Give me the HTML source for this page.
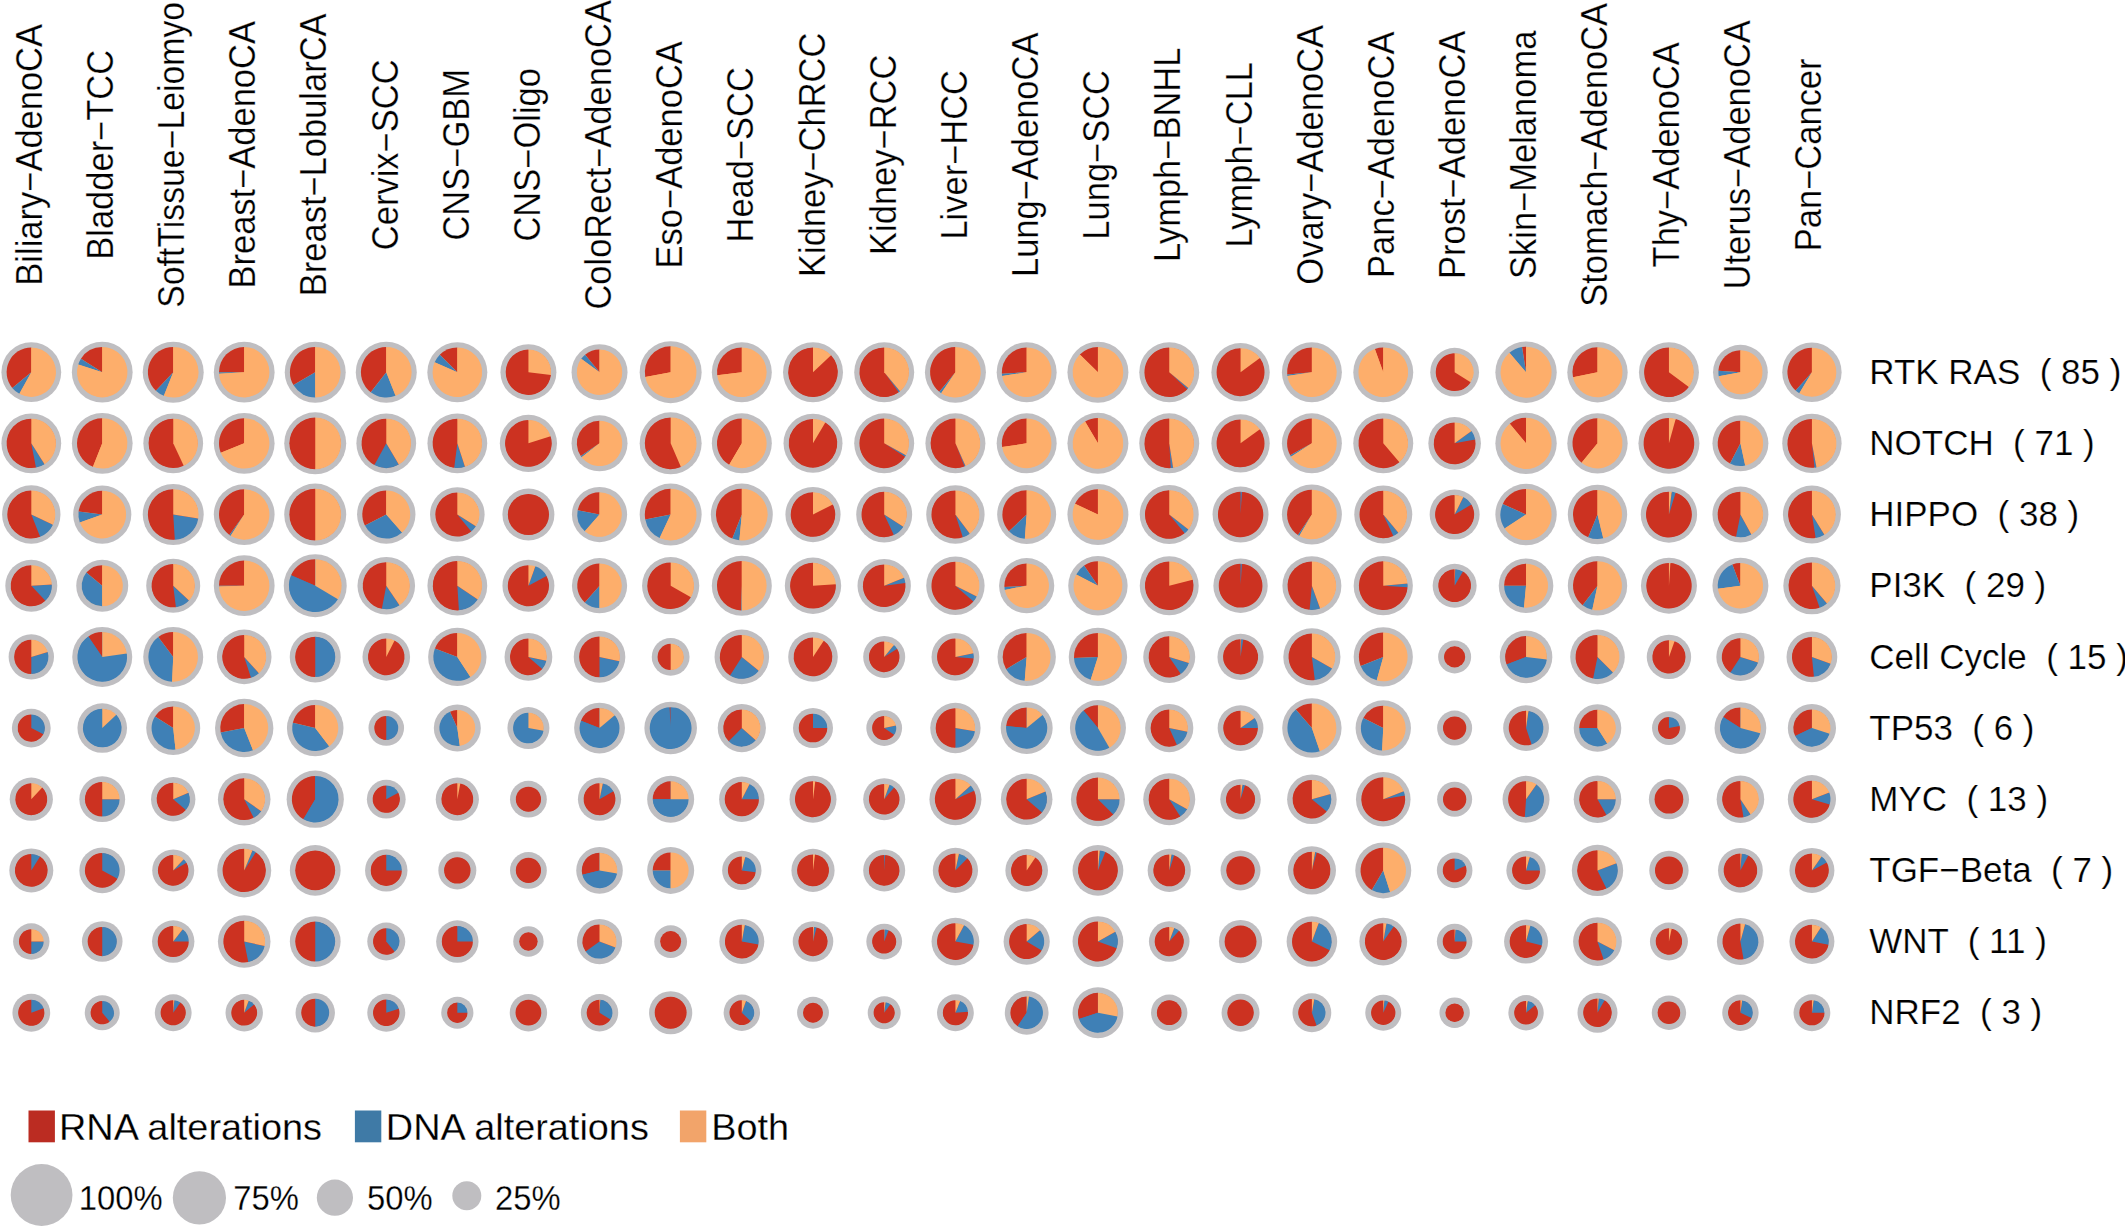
<!DOCTYPE html>
<html><head><meta charset="utf-8"><title>Pathway alterations</title>
<style>
html,body{margin:0;padding:0;background:#fff;}
body{width:2125px;height:1227px;overflow:hidden;}
svg{display:block;}
text{font-family:"Liberation Sans",Arial,Helvetica,sans-serif;fill:#000;stroke:#fff;stroke-width:0.25px;}
</style></head><body>
<svg width="2125" height="1227" viewBox="0 0 2125 1227">
<rect width="2125" height="1227" fill="#fff"/>

<g font-size="36.0" text-anchor="middle">
<text transform="translate(41.70 154.8) rotate(-90) scale(0.9580 1)">Biliary−AdenoCA</text>
<text transform="translate(112.87 154.8) rotate(-90) scale(0.9580 1)">Bladder−TCC</text>
<text transform="translate(184.04 154.8) rotate(-90) scale(0.9388 1)">SoftTissue−Leiomyo</text>
<text transform="translate(255.21 154.8) rotate(-90) scale(0.9580 1)">Breast−AdenoCA</text>
<text transform="translate(326.38 154.8) rotate(-90) scale(0.9580 1)">Breast−LobularCA</text>
<text transform="translate(397.55 154.8) rotate(-90) scale(0.9580 1)">Cervix−SCC</text>
<text transform="translate(468.72 154.8) rotate(-90) scale(0.9580 1)">CNS−GBM</text>
<text transform="translate(539.89 154.8) rotate(-90) scale(0.9580 1)">CNS−Oligo</text>
<text transform="translate(611.06 154.8) rotate(-90) scale(0.9580 1)">ColoRect−AdenoCA</text>
<text transform="translate(682.23 154.8) rotate(-90) scale(0.9580 1)">Eso−AdenoCA</text>
<text transform="translate(753.40 154.8) rotate(-90) scale(0.9580 1)">Head−SCC</text>
<text transform="translate(824.57 154.8) rotate(-90) scale(0.9580 1)">Kidney−ChRCC</text>
<text transform="translate(895.74 154.8) rotate(-90) scale(0.9580 1)">Kidney−RCC</text>
<text transform="translate(966.91 154.8) rotate(-90) scale(0.9580 1)">Liver−HCC</text>
<text transform="translate(1038.08 154.8) rotate(-90) scale(0.9580 1)">Lung−AdenoCA</text>
<text transform="translate(1109.25 154.8) rotate(-90) scale(0.9580 1)">Lung−SCC</text>
<text transform="translate(1180.42 154.8) rotate(-90) scale(0.9580 1)">Lymph−BNHL</text>
<text transform="translate(1251.59 154.8) rotate(-90) scale(0.9580 1)">Lymph−CLL</text>
<text transform="translate(1322.76 154.8) rotate(-90) scale(0.9580 1)">Ovary−AdenoCA</text>
<text transform="translate(1393.93 154.8) rotate(-90) scale(0.9580 1)">Panc−AdenoCA</text>
<text transform="translate(1465.10 154.8) rotate(-90) scale(0.9580 1)">Prost−AdenoCA</text>
<text transform="translate(1536.27 154.8) rotate(-90) scale(0.9580 1)">Skin−Melanoma</text>
<text transform="translate(1607.44 154.8) rotate(-90) scale(0.9580 1)">Stomach−AdenoCA</text>
<text transform="translate(1678.61 154.8) rotate(-90) scale(0.9580 1)">Thy−AdenoCA</text>
<text transform="translate(1749.78 154.8) rotate(-90) scale(0.9580 1)">Uterus−AdenoCA</text>
<text transform="translate(1820.95 154.8) rotate(-90) scale(0.9580 1)">Pan−Cancer</text>
</g>
<g font-size="36.0">
<text transform="translate(1869.3 383.95) scale(0.972 1)" xml:space="preserve">RTK RAS  ( 85 )</text>
<text transform="translate(1869.3 455.12) scale(0.972 1)" xml:space="preserve">NOTCH  ( 71 )</text>
<text transform="translate(1869.3 526.29) scale(0.972 1)" xml:space="preserve">HIPPO  ( 38 )</text>
<text transform="translate(1869.3 597.46) scale(0.972 1)" xml:space="preserve">PI3K  ( 29 )</text>
<text transform="translate(1869.3 668.63) scale(0.972 1)" xml:space="preserve">Cell Cycle  ( 15 )</text>
<text transform="translate(1869.3 739.80) scale(0.972 1)" xml:space="preserve">TP53  ( 6 )</text>
<text transform="translate(1869.3 810.97) scale(0.972 1)" xml:space="preserve">MYC  ( 13 )</text>
<text transform="translate(1869.3 882.14) scale(0.972 1)" xml:space="preserve">TGF−Beta  ( 7 )</text>
<text transform="translate(1869.3 953.31) scale(0.972 1)" xml:space="preserve">WNT  ( 11 )</text>
<text transform="translate(1869.3 1024.48) scale(0.972 1)" xml:space="preserve">NRF2  ( 3 )</text>
</g>
<g><!-- RTK RAS  ( 85 ) -->
<circle cx="31.30" cy="372.20" r="29.90" fill="#bfbec1"/>
<circle cx="31.30" cy="372.20" r="24.18" fill="#fdae6b"/>
<path d="M31.30 372.20L31.30 347.52A24.68 24.68 0 0 0 12.28 387.93Z" fill="#cc3221"/>
<path d="M31.30 372.20L12.28 387.93A24.68 24.68 0 0 0 19.40 393.83Z" fill="#3f80b6"/>
<path d="M31.30 372.20L19.40 393.83A24.68 24.68 0 1 0 31.30 347.52Z" fill="#fdae6b"/>
<circle cx="102.24" cy="372.20" r="30.40" fill="#bfbec1"/>
<circle cx="102.24" cy="372.20" r="24.71" fill="#fdae6b"/>
<path d="M102.24 372.20L102.24 346.99A25.21 25.21 0 0 0 80.96 358.69Z" fill="#cc3221"/>
<path d="M102.24 372.20L80.96 358.69A25.21 25.21 0 0 0 78.27 364.41Z" fill="#3f80b6"/>
<path d="M102.24 372.20L78.27 364.41A25.21 25.21 0 1 0 102.24 346.99Z" fill="#fdae6b"/>
<circle cx="173.22" cy="372.20" r="30.50" fill="#bfbec1"/>
<circle cx="173.22" cy="372.20" r="24.82" fill="#fdae6b"/>
<path d="M173.22 372.20L173.22 346.88A25.32 25.32 0 0 0 155.88 390.65Z" fill="#cc3221"/>
<path d="M173.22 372.20L155.88 390.65A25.32 25.32 0 0 0 163.90 395.74Z" fill="#3f80b6"/>
<path d="M173.22 372.20L163.90 395.74A25.32 25.32 0 1 0 173.22 346.88Z" fill="#fdae6b"/>
<circle cx="244.21" cy="372.20" r="30.40" fill="#bfbec1"/>
<circle cx="244.21" cy="372.20" r="24.71" fill="#fdae6b"/>
<path d="M244.21 372.20L244.21 346.99A25.21 25.21 0 0 0 219.00 372.20Z" fill="#cc3221"/>
<path d="M244.21 372.20L219.00 372.20A25.21 25.21 0 0 0 219.05 373.78Z" fill="#3f80b6"/>
<path d="M244.21 372.20L219.05 373.78A25.21 25.21 0 1 0 244.21 346.99Z" fill="#fdae6b"/>
<circle cx="315.23" cy="372.20" r="30.50" fill="#bfbec1"/>
<circle cx="315.23" cy="372.20" r="24.82" fill="#fdae6b"/>
<path d="M315.23 372.20L315.23 346.88A25.32 25.32 0 0 0 293.44 385.09Z" fill="#cc3221"/>
<path d="M315.23 372.20L293.44 385.09A25.32 25.32 0 0 0 315.23 397.52Z" fill="#3f80b6"/>
<path d="M315.23 372.20L315.23 397.52A25.32 25.32 0 0 0 315.23 346.88Z" fill="#fdae6b"/>
<circle cx="386.27" cy="372.20" r="30.50" fill="#bfbec1"/>
<circle cx="386.27" cy="372.20" r="24.82" fill="#fdae6b"/>
<path d="M386.27 372.20L386.27 346.88A25.32 25.32 0 0 0 370.75 392.20Z" fill="#cc3221"/>
<path d="M386.27 372.20L370.75 392.20A25.32 25.32 0 0 0 395.59 395.74Z" fill="#3f80b6"/>
<path d="M386.27 372.20L395.59 395.74A25.32 25.32 0 0 0 386.27 346.88Z" fill="#fdae6b"/>
<circle cx="457.33" cy="372.20" r="30.00" fill="#bfbec1"/>
<circle cx="457.33" cy="372.20" r="24.29" fill="#fdae6b"/>
<path d="M457.33 372.20L457.33 347.41A24.79 24.79 0 0 0 439.80 354.67Z" fill="#cc3221"/>
<path d="M457.33 372.20L439.80 354.67A24.79 24.79 0 0 0 434.58 362.35Z" fill="#3f80b6"/>
<path d="M457.33 372.20L434.58 362.35A24.79 24.79 0 1 0 457.33 347.41Z" fill="#fdae6b"/>
<circle cx="528.42" cy="372.20" r="28.00" fill="#bfbec1"/>
<circle cx="528.42" cy="372.20" r="22.18" fill="#cc3221"/>
<path d="M528.42 372.20L528.42 349.52A22.68 22.68 0 1 0 550.92 375.04Z" fill="#cc3221"/>

<path d="M528.42 372.20L550.92 375.04A22.68 22.68 0 0 0 528.42 349.52Z" fill="#fdae6b"/>
<circle cx="599.53" cy="372.20" r="28.00" fill="#bfbec1"/>
<circle cx="599.53" cy="372.20" r="22.18" fill="#fdae6b"/>
<path d="M599.53 372.20L599.53 349.52A22.68 22.68 0 0 0 585.07 354.72Z" fill="#cc3221"/>
<path d="M599.53 372.20L585.07 354.72A22.68 22.68 0 0 0 581.18 358.87Z" fill="#3f80b6"/>
<path d="M599.53 372.20L581.18 358.87A22.68 22.68 0 1 0 599.53 349.52Z" fill="#fdae6b"/>
<circle cx="670.66" cy="372.20" r="31.00" fill="#bfbec1"/>
<circle cx="670.66" cy="372.20" r="25.34" fill="#fdae6b"/>
<path d="M670.66 372.20L670.66 346.36A25.84 25.84 0 0 0 645.28 377.04Z" fill="#cc3221"/>

<path d="M670.66 372.20L645.28 377.04A25.84 25.84 0 1 0 670.66 346.36Z" fill="#fdae6b"/>
<circle cx="741.82" cy="372.20" r="30.00" fill="#bfbec1"/>
<circle cx="741.82" cy="372.20" r="24.29" fill="#fdae6b"/>
<path d="M741.82 372.20L741.82 347.41A24.79 24.79 0 0 0 717.22 375.31Z" fill="#cc3221"/>

<path d="M741.82 372.20L717.22 375.31A24.79 24.79 0 1 0 741.82 347.41Z" fill="#fdae6b"/>
<circle cx="813.00" cy="372.20" r="30.00" fill="#bfbec1"/>
<circle cx="813.00" cy="372.20" r="24.29" fill="#cc3221"/>
<path d="M813.00 372.20L813.00 347.41A24.79 24.79 0 1 0 831.07 355.23Z" fill="#cc3221"/>

<path d="M813.00 372.20L831.07 355.23A24.79 24.79 0 0 0 813.00 347.41Z" fill="#fdae6b"/>
<circle cx="884.20" cy="372.20" r="30.00" fill="#bfbec1"/>
<circle cx="884.20" cy="372.20" r="24.29" fill="#cc3221"/>
<path d="M884.20 372.20L884.20 347.41A24.79 24.79 0 1 0 898.77 392.26Z" fill="#cc3221"/>
<path d="M884.20 372.20L898.77 392.26A24.79 24.79 0 0 0 900.00 391.30Z" fill="#3f80b6"/>
<path d="M884.20 372.20L900.00 391.30A24.79 24.79 0 0 0 884.20 347.41Z" fill="#fdae6b"/>
<circle cx="955.42" cy="372.20" r="30.50" fill="#bfbec1"/>
<circle cx="955.42" cy="372.20" r="24.82" fill="#fdae6b"/>
<path d="M955.42 372.20L955.42 346.88A25.32 25.32 0 0 0 939.29 391.71Z" fill="#cc3221"/>
<path d="M955.42 372.20L939.29 391.71A25.32 25.32 0 0 0 941.19 393.14Z" fill="#3f80b6"/>
<path d="M955.42 372.20L941.19 393.14A25.32 25.32 0 1 0 955.42 346.88Z" fill="#fdae6b"/>
<circle cx="1026.67" cy="372.20" r="30.00" fill="#bfbec1"/>
<circle cx="1026.67" cy="372.20" r="24.29" fill="#fdae6b"/>
<path d="M1026.67 372.20L1026.67 347.41A24.79 24.79 0 0 0 1001.93 373.76Z" fill="#cc3221"/>
<path d="M1026.67 372.20L1001.93 373.76A24.79 24.79 0 0 0 1002.19 376.08Z" fill="#3f80b6"/>
<path d="M1026.67 372.20L1002.19 376.08A24.79 24.79 0 1 0 1026.67 347.41Z" fill="#fdae6b"/>
<circle cx="1097.94" cy="372.20" r="30.50" fill="#bfbec1"/>
<circle cx="1097.94" cy="372.20" r="24.82" fill="#fdae6b"/>
<path d="M1097.94 372.20L1097.94 346.88A25.32 25.32 0 0 0 1079.82 354.52Z" fill="#cc3221"/>

<path d="M1097.94 372.20L1079.82 354.52A25.32 25.32 0 1 0 1097.94 346.88Z" fill="#fdae6b"/>
<circle cx="1169.24" cy="372.20" r="30.00" fill="#bfbec1"/>
<circle cx="1169.24" cy="372.20" r="24.29" fill="#cc3221"/>
<path d="M1169.24 372.20L1169.24 347.41A24.79 24.79 0 1 0 1187.31 389.17Z" fill="#cc3221"/>
<path d="M1169.24 372.20L1187.31 389.17A24.79 24.79 0 0 0 1188.34 388.00Z" fill="#3f80b6"/>
<path d="M1169.24 372.20L1188.34 388.00A24.79 24.79 0 0 0 1169.24 347.41Z" fill="#fdae6b"/>
<circle cx="1240.55" cy="372.20" r="29.20" fill="#bfbec1"/>
<circle cx="1240.55" cy="372.20" r="23.45" fill="#cc3221"/>
<path d="M1240.55 372.20L1240.55 348.25A23.95 23.95 0 1 0 1259.93 358.12Z" fill="#cc3221"/>

<path d="M1240.55 372.20L1259.93 358.12A23.95 23.95 0 0 0 1240.55 348.25Z" fill="#fdae6b"/>
<circle cx="1311.89" cy="372.20" r="30.00" fill="#bfbec1"/>
<circle cx="1311.89" cy="372.20" r="24.29" fill="#fdae6b"/>
<path d="M1311.89 372.20L1311.89 347.41A24.79 24.79 0 0 0 1287.21 374.53Z" fill="#cc3221"/>
<path d="M1311.89 372.20L1287.21 374.53A24.79 24.79 0 0 0 1287.41 376.08Z" fill="#3f80b6"/>
<path d="M1311.89 372.20L1287.41 376.08A24.79 24.79 0 1 0 1311.89 347.41Z" fill="#fdae6b"/>
<circle cx="1383.26" cy="372.20" r="30.00" fill="#bfbec1"/>
<circle cx="1383.26" cy="372.20" r="24.29" fill="#fdae6b"/>
<path d="M1383.26 372.20L1383.26 347.41A24.79 24.79 0 0 0 1374.86 348.88Z" fill="#cc3221"/>

<path d="M1383.26 372.20L1374.86 348.88A24.79 24.79 0 1 0 1383.26 347.41Z" fill="#fdae6b"/>
<circle cx="1454.64" cy="372.20" r="24.40" fill="#bfbec1"/>
<circle cx="1454.64" cy="372.20" r="18.39" fill="#cc3221"/>
<path d="M1454.64 372.20L1454.64 353.31A18.89 18.89 0 1 0 1470.60 382.32Z" fill="#cc3221"/>

<path d="M1454.64 372.20L1470.60 382.32A18.89 18.89 0 0 0 1454.64 353.31Z" fill="#fdae6b"/>
<circle cx="1526.05" cy="372.20" r="30.70" fill="#bfbec1"/>
<circle cx="1526.05" cy="372.20" r="25.03" fill="#fdae6b"/>
<path d="M1526.05 372.20L1526.05 346.67A25.53 25.53 0 0 0 1522.06 346.99Z" fill="#cc3221"/>
<path d="M1526.05 372.20L1522.06 346.99A25.53 25.53 0 0 0 1509.41 352.84Z" fill="#3f80b6"/>
<path d="M1526.05 372.20L1509.41 352.84A25.53 25.53 0 1 0 1526.05 346.67Z" fill="#fdae6b"/>
<circle cx="1597.49" cy="372.20" r="30.20" fill="#bfbec1"/>
<circle cx="1597.49" cy="372.20" r="24.50" fill="#fdae6b"/>
<path d="M1597.49 372.20L1597.49 347.20A25.00 25.00 0 0 0 1573.02 377.35Z" fill="#cc3221"/>

<path d="M1597.49 372.20L1573.02 377.35A25.00 25.00 0 1 0 1597.49 347.20Z" fill="#fdae6b"/>
<circle cx="1668.94" cy="372.20" r="30.00" fill="#bfbec1"/>
<circle cx="1668.94" cy="372.20" r="24.29" fill="#cc3221"/>
<path d="M1668.94 372.20L1668.94 347.41A24.79 24.79 0 1 0 1688.81 387.02Z" fill="#cc3221"/>

<path d="M1668.94 372.20L1688.81 387.02A24.79 24.79 0 0 0 1668.94 347.41Z" fill="#fdae6b"/>
<circle cx="1740.42" cy="372.20" r="27.40" fill="#bfbec1"/>
<circle cx="1740.42" cy="372.20" r="21.55" fill="#fdae6b"/>
<path d="M1740.42 372.20L1740.42 350.15A22.05 22.05 0 0 0 1718.41 370.82Z" fill="#cc3221"/>
<path d="M1740.42 372.20L1718.41 370.82A22.05 22.05 0 0 0 1718.76 376.33Z" fill="#3f80b6"/>
<path d="M1740.42 372.20L1718.76 376.33A22.05 22.05 0 1 0 1740.42 350.15Z" fill="#fdae6b"/>
<circle cx="1811.92" cy="372.20" r="29.70" fill="#bfbec1"/>
<circle cx="1811.92" cy="372.20" r="23.97" fill="#fdae6b"/>
<path d="M1811.92 372.20L1811.92 347.73A24.47 24.47 0 0 0 1795.62 390.46Z" fill="#cc3221"/>
<path d="M1811.92 372.20L1795.62 390.46A24.47 24.47 0 0 0 1799.33 393.19Z" fill="#3f80b6"/>
<path d="M1811.92 372.20L1799.33 393.19A24.47 24.47 0 1 0 1811.92 347.73Z" fill="#fdae6b"/>
</g>
<g><!-- NOTCH  ( 71 ) -->
<circle cx="31.30" cy="443.37" r="29.90" fill="#bfbec1"/>
<circle cx="31.30" cy="443.37" r="24.18" fill="#cc3221"/>
<path d="M31.30 443.37L31.30 418.69A24.68 24.68 0 1 0 35.92 467.62Z" fill="#cc3221"/>
<path d="M31.30 443.37L35.92 467.62A24.68 24.68 0 0 0 44.52 464.21Z" fill="#3f80b6"/>
<path d="M31.30 443.37L44.52 464.21A24.68 24.68 0 0 0 31.30 418.69Z" fill="#fdae6b"/>
<circle cx="102.24" cy="443.37" r="30.40" fill="#bfbec1"/>
<circle cx="102.24" cy="443.37" r="24.71" fill="#fdae6b"/>
<path d="M102.24 443.37L102.24 418.16A25.21 25.21 0 0 0 92.96 466.81Z" fill="#cc3221"/>

<path d="M102.24 443.37L92.96 466.81A25.21 25.21 0 1 0 102.24 418.16Z" fill="#fdae6b"/>
<circle cx="173.22" cy="443.37" r="29.90" fill="#bfbec1"/>
<circle cx="173.22" cy="443.37" r="24.18" fill="#cc3221"/>
<path d="M173.22 443.37L173.22 418.69A24.68 24.68 0 1 0 183.73 465.71Z" fill="#cc3221"/>

<path d="M173.22 443.37L183.73 465.71A24.68 24.68 0 0 0 173.22 418.69Z" fill="#fdae6b"/>
<circle cx="244.21" cy="443.37" r="30.40" fill="#bfbec1"/>
<circle cx="244.21" cy="443.37" r="24.71" fill="#fdae6b"/>
<path d="M244.21 443.37L244.21 418.16A25.21 25.21 0 0 0 220.77 452.65Z" fill="#cc3221"/>

<path d="M244.21 443.37L220.77 452.65A25.21 25.21 0 1 0 244.21 418.16Z" fill="#fdae6b"/>
<circle cx="315.23" cy="443.37" r="31.00" fill="#bfbec1"/>
<circle cx="315.23" cy="443.37" r="25.34" fill="#cc3221"/>
<path d="M315.23 443.37L315.23 417.53A25.84 25.84 0 0 0 315.23 469.21Z" fill="#cc3221"/>

<path d="M315.23 443.37L315.23 469.21A25.84 25.84 0 0 0 315.23 417.53Z" fill="#fdae6b"/>
<circle cx="386.27" cy="443.37" r="29.90" fill="#bfbec1"/>
<circle cx="386.27" cy="443.37" r="24.18" fill="#cc3221"/>
<path d="M386.27 443.37L386.27 418.69A24.68 24.68 0 0 0 374.38 465.00Z" fill="#cc3221"/>
<path d="M386.27 443.37L374.38 465.00A24.68 24.68 0 0 0 398.83 464.62Z" fill="#3f80b6"/>
<path d="M386.27 443.37L398.83 464.62A24.68 24.68 0 0 0 386.27 418.69Z" fill="#fdae6b"/>
<circle cx="457.33" cy="443.37" r="29.90" fill="#bfbec1"/>
<circle cx="457.33" cy="443.37" r="24.18" fill="#cc3221"/>
<path d="M457.33 443.37L457.33 418.69A24.68 24.68 0 0 0 454.24 467.86Z" fill="#cc3221"/>
<path d="M457.33 443.37L454.24 467.86A24.68 24.68 0 0 0 464.96 466.85Z" fill="#3f80b6"/>
<path d="M457.33 443.37L464.96 466.85A24.68 24.68 0 0 0 457.33 418.69Z" fill="#fdae6b"/>
<circle cx="528.42" cy="443.37" r="28.60" fill="#bfbec1"/>
<circle cx="528.42" cy="443.37" r="22.82" fill="#cc3221"/>
<path d="M528.42 443.37L528.42 420.05A23.32 23.32 0 1 0 550.59 436.17Z" fill="#cc3221"/>

<path d="M528.42 443.37L550.59 436.17A23.32 23.32 0 0 0 528.42 420.05Z" fill="#fdae6b"/>
<circle cx="599.53" cy="443.37" r="28.00" fill="#bfbec1"/>
<circle cx="599.53" cy="443.37" r="22.18" fill="#fdae6b"/>
<path d="M599.53 443.37L599.53 420.69A22.68 22.68 0 0 0 580.77 456.12Z" fill="#cc3221"/>
<path d="M599.53 443.37L580.77 456.12A22.68 22.68 0 0 0 581.60 457.27Z" fill="#3f80b6"/>
<path d="M599.53 443.37L581.60 457.27A22.68 22.68 0 1 0 599.53 420.69Z" fill="#fdae6b"/>
<circle cx="670.66" cy="443.37" r="31.00" fill="#bfbec1"/>
<circle cx="670.66" cy="443.37" r="25.34" fill="#cc3221"/>
<path d="M670.66 443.37L670.66 417.53A25.84 25.84 0 1 0 680.92 467.09Z" fill="#cc3221"/>

<path d="M670.66 443.37L680.92 467.09A25.84 25.84 0 0 0 670.66 417.53Z" fill="#fdae6b"/>
<circle cx="741.82" cy="443.37" r="30.00" fill="#bfbec1"/>
<circle cx="741.82" cy="443.37" r="24.29" fill="#fdae6b"/>
<path d="M741.82 443.37L741.82 418.58A24.79 24.79 0 0 0 729.20 464.71Z" fill="#cc3221"/>

<path d="M741.82 443.37L729.20 464.71A24.79 24.79 0 1 0 741.82 418.58Z" fill="#fdae6b"/>
<circle cx="813.00" cy="443.37" r="29.50" fill="#bfbec1"/>
<circle cx="813.00" cy="443.37" r="23.76" fill="#cc3221"/>
<path d="M813.00 443.37L813.00 419.11A24.26 24.26 0 1 0 825.35 422.49Z" fill="#cc3221"/>

<path d="M813.00 443.37L825.35 422.49A24.26 24.26 0 0 0 813.00 419.11Z" fill="#fdae6b"/>
<circle cx="884.20" cy="443.37" r="30.00" fill="#bfbec1"/>
<circle cx="884.20" cy="443.37" r="24.29" fill="#cc3221"/>
<path d="M884.20 443.37L884.20 418.58A24.79 24.79 0 1 0 905.13 456.65Z" fill="#cc3221"/>
<path d="M884.20 443.37L905.13 456.65A24.79 24.79 0 0 0 905.92 455.31Z" fill="#3f80b6"/>
<path d="M884.20 443.37L905.92 455.31A24.79 24.79 0 0 0 884.20 418.58Z" fill="#fdae6b"/>
<circle cx="955.42" cy="443.37" r="30.00" fill="#bfbec1"/>
<circle cx="955.42" cy="443.37" r="24.29" fill="#cc3221"/>
<path d="M955.42 443.37L955.42 418.58A24.79 24.79 0 1 0 964.55 466.42Z" fill="#cc3221"/>
<path d="M955.42 443.37L964.55 466.42A24.79 24.79 0 0 0 965.55 466.00Z" fill="#3f80b6"/>
<path d="M955.42 443.37L965.55 466.00A24.79 24.79 0 0 0 955.42 418.58Z" fill="#fdae6b"/>
<circle cx="1026.67" cy="443.37" r="30.00" fill="#bfbec1"/>
<circle cx="1026.67" cy="443.37" r="24.29" fill="#fdae6b"/>
<path d="M1026.67 443.37L1026.67 418.58A24.79 24.79 0 0 0 1002.16 447.09Z" fill="#cc3221"/>

<path d="M1026.67 443.37L1002.16 447.09A24.79 24.79 0 1 0 1026.67 418.58Z" fill="#fdae6b"/>
<circle cx="1097.94" cy="443.37" r="30.50" fill="#bfbec1"/>
<circle cx="1097.94" cy="443.37" r="24.82" fill="#fdae6b"/>
<path d="M1097.94 443.37L1097.94 418.05A25.32 25.32 0 0 0 1085.06 421.58Z" fill="#cc3221"/>

<path d="M1097.94 443.37L1085.06 421.58A25.32 25.32 0 1 0 1097.94 418.05Z" fill="#fdae6b"/>
<circle cx="1169.24" cy="443.37" r="30.00" fill="#bfbec1"/>
<circle cx="1169.24" cy="443.37" r="24.29" fill="#cc3221"/>
<path d="M1169.24 443.37L1169.24 418.58A24.79 24.79 0 1 0 1170.79 468.11Z" fill="#cc3221"/>
<path d="M1169.24 443.37L1170.79 468.11A24.79 24.79 0 0 0 1173.11 467.85Z" fill="#3f80b6"/>
<path d="M1169.24 443.37L1173.11 467.85A24.79 24.79 0 0 0 1169.24 418.58Z" fill="#fdae6b"/>
<circle cx="1240.55" cy="443.37" r="29.20" fill="#bfbec1"/>
<circle cx="1240.55" cy="443.37" r="23.45" fill="#cc3221"/>
<path d="M1240.55 443.37L1240.55 419.42A23.95 23.95 0 1 0 1259.93 429.29Z" fill="#cc3221"/>

<path d="M1240.55 443.37L1259.93 429.29A23.95 23.95 0 0 0 1240.55 419.42Z" fill="#fdae6b"/>
<circle cx="1311.89" cy="443.37" r="30.00" fill="#bfbec1"/>
<circle cx="1311.89" cy="443.37" r="24.29" fill="#fdae6b"/>
<path d="M1311.89 443.37L1311.89 418.58A24.79 24.79 0 0 0 1290.17 455.31Z" fill="#cc3221"/>
<path d="M1311.89 443.37L1290.17 455.31A24.79 24.79 0 0 0 1290.96 456.65Z" fill="#3f80b6"/>
<path d="M1311.89 443.37L1290.96 456.65A24.79 24.79 0 1 0 1311.89 418.58Z" fill="#fdae6b"/>
<circle cx="1383.26" cy="443.37" r="30.00" fill="#bfbec1"/>
<circle cx="1383.26" cy="443.37" r="24.29" fill="#cc3221"/>
<path d="M1383.26 443.37L1383.26 418.58A24.79 24.79 0 1 0 1399.42 462.17Z" fill="#cc3221"/>

<path d="M1383.26 443.37L1399.42 462.17A24.79 24.79 0 0 0 1383.26 418.58Z" fill="#fdae6b"/>
<circle cx="1454.64" cy="443.37" r="26.30" fill="#bfbec1"/>
<circle cx="1454.64" cy="443.37" r="20.39" fill="#cc3221"/>
<path d="M1454.64 443.37L1454.64 422.48A20.89 20.89 0 1 0 1475.17 439.45Z" fill="#cc3221"/>
<path d="M1454.64 443.37L1475.17 439.45A20.89 20.89 0 0 0 1471.55 431.09Z" fill="#3f80b6"/>
<path d="M1454.64 443.37L1471.55 431.09A20.89 20.89 0 0 0 1454.64 422.48Z" fill="#fdae6b"/>
<circle cx="1526.05" cy="443.37" r="30.70" fill="#bfbec1"/>
<circle cx="1526.05" cy="443.37" r="25.03" fill="#fdae6b"/>
<path d="M1526.05 443.37L1526.05 417.84A25.53 25.53 0 0 0 1509.78 423.70Z" fill="#cc3221"/>

<path d="M1526.05 443.37L1509.78 423.70A25.53 25.53 0 1 0 1526.05 417.84Z" fill="#fdae6b"/>
<circle cx="1597.49" cy="443.37" r="30.20" fill="#bfbec1"/>
<circle cx="1597.49" cy="443.37" r="24.50" fill="#fdae6b"/>
<path d="M1597.49 443.37L1597.49 418.37A25.00 25.00 0 0 0 1581.55 462.63Z" fill="#cc3221"/>

<path d="M1597.49 443.37L1581.55 462.63A25.00 25.00 0 1 0 1597.49 418.37Z" fill="#fdae6b"/>
<circle cx="1668.94" cy="443.37" r="30.50" fill="#bfbec1"/>
<circle cx="1668.94" cy="443.37" r="24.82" fill="#cc3221"/>
<path d="M1668.94 443.37L1668.94 418.05A25.32 25.32 0 1 0 1675.70 418.97Z" fill="#cc3221"/>

<path d="M1668.94 443.37L1675.70 418.97A25.32 25.32 0 0 0 1668.94 418.05Z" fill="#fdae6b"/>
<circle cx="1740.42" cy="443.37" r="28.00" fill="#bfbec1"/>
<circle cx="1740.42" cy="443.37" r="22.18" fill="#fdae6b"/>
<path d="M1740.42 443.37L1740.42 420.69A22.68 22.68 0 0 0 1730.00 463.52Z" fill="#cc3221"/>
<path d="M1740.42 443.37L1730.00 463.52A22.68 22.68 0 0 0 1745.23 465.54Z" fill="#3f80b6"/>
<path d="M1740.42 443.37L1745.23 465.54A22.68 22.68 0 0 0 1740.42 420.69Z" fill="#fdae6b"/>
<circle cx="1811.92" cy="443.37" r="29.70" fill="#bfbec1"/>
<circle cx="1811.92" cy="443.37" r="23.97" fill="#cc3221"/>
<path d="M1811.92 443.37L1811.92 418.90A24.47 24.47 0 1 0 1814.53 467.70Z" fill="#cc3221"/>
<path d="M1811.92 443.37L1814.53 467.70A24.47 24.47 0 0 0 1816.51 467.41Z" fill="#3f80b6"/>
<path d="M1811.92 443.37L1816.51 467.41A24.47 24.47 0 0 0 1811.92 418.90Z" fill="#fdae6b"/>
</g>
<g><!-- HIPPO  ( 38 ) -->
<circle cx="31.30" cy="514.54" r="29.20" fill="#bfbec1"/>
<circle cx="31.30" cy="514.54" r="23.45" fill="#cc3221"/>
<path d="M31.30 514.54L31.30 490.59A23.95 23.95 0 1 0 40.11 536.81Z" fill="#cc3221"/>
<path d="M31.30 514.54L40.11 536.81A23.95 23.95 0 0 0 52.96 524.74Z" fill="#3f80b6"/>
<path d="M31.30 514.54L52.96 524.74A23.95 23.95 0 0 0 31.30 490.59Z" fill="#fdae6b"/>
<circle cx="102.24" cy="514.54" r="29.10" fill="#bfbec1"/>
<circle cx="102.24" cy="514.54" r="23.34" fill="#fdae6b"/>
<path d="M102.24 514.54L102.24 490.70A23.84 23.84 0 0 0 78.59 511.55Z" fill="#cc3221"/>
<path d="M102.24 514.54L78.59 511.55A23.84 23.84 0 0 0 79.81 522.62Z" fill="#3f80b6"/>
<path d="M102.24 514.54L79.81 522.62A23.84 23.84 0 1 0 102.24 490.70Z" fill="#fdae6b"/>
<circle cx="173.22" cy="514.54" r="30.50" fill="#bfbec1"/>
<circle cx="173.22" cy="514.54" r="24.82" fill="#cc3221"/>
<path d="M173.22 514.54L173.22 489.22A25.32 25.32 0 1 0 174.80 539.81Z" fill="#cc3221"/>
<path d="M173.22 514.54L174.80 539.81A25.32 25.32 0 0 0 198.22 518.50Z" fill="#3f80b6"/>
<path d="M173.22 514.54L198.22 518.50A25.32 25.32 0 0 0 173.22 489.22Z" fill="#fdae6b"/>
<circle cx="244.21" cy="514.54" r="30.40" fill="#bfbec1"/>
<circle cx="244.21" cy="514.54" r="24.71" fill="#fdae6b"/>
<path d="M244.21 514.54L244.21 489.33A25.21 25.21 0 0 0 229.39 534.94Z" fill="#cc3221"/>
<path d="M244.21 514.54L229.39 534.94A25.21 25.21 0 0 0 230.70 535.83Z" fill="#3f80b6"/>
<path d="M244.21 514.54L230.70 535.83A25.21 25.21 0 1 0 244.21 489.33Z" fill="#fdae6b"/>
<circle cx="315.23" cy="514.54" r="31.00" fill="#bfbec1"/>
<circle cx="315.23" cy="514.54" r="25.34" fill="#cc3221"/>
<path d="M315.23 514.54L315.23 488.70A25.84 25.84 0 0 0 315.23 540.38Z" fill="#cc3221"/>

<path d="M315.23 514.54L315.23 540.38A25.84 25.84 0 0 0 315.23 488.70Z" fill="#fdae6b"/>
<circle cx="386.27" cy="514.54" r="29.20" fill="#bfbec1"/>
<circle cx="386.27" cy="514.54" r="23.45" fill="#fdae6b"/>
<path d="M386.27 514.54L386.27 490.59A23.95 23.95 0 0 0 364.93 525.41Z" fill="#cc3221"/>
<path d="M386.27 514.54L364.93 525.41A23.95 23.95 0 0 0 402.10 532.50Z" fill="#3f80b6"/>
<path d="M386.27 514.54L402.10 532.50A23.95 23.95 0 0 0 386.27 490.59Z" fill="#fdae6b"/>
<circle cx="457.33" cy="514.54" r="27.30" fill="#bfbec1"/>
<circle cx="457.33" cy="514.54" r="21.45" fill="#cc3221"/>
<path d="M457.33 514.54L457.33 492.59A21.95 21.95 0 1 0 471.32 531.45Z" fill="#cc3221"/>
<path d="M457.33 514.54L471.32 531.45A21.95 21.95 0 0 0 475.86 526.30Z" fill="#3f80b6"/>
<path d="M457.33 514.54L475.86 526.30A21.95 21.95 0 0 0 457.33 492.59Z" fill="#fdae6b"/>
<circle cx="528.42" cy="514.54" r="26.00" fill="#bfbec1"/>
<circle cx="528.42" cy="514.54" r="20.08" fill="#cc3221"/>
<circle cx="528.42" cy="514.54" r="20.58" fill="#cc3221"/>


<circle cx="599.53" cy="514.54" r="27.60" fill="#bfbec1"/>
<circle cx="599.53" cy="514.54" r="21.76" fill="#fdae6b"/>
<path d="M599.53 514.54L599.53 492.28A22.26 22.26 0 0 0 577.66 510.37Z" fill="#cc3221"/>
<path d="M599.53 514.54L577.66 510.37A22.26 22.26 0 0 0 584.81 531.24Z" fill="#3f80b6"/>
<path d="M599.53 514.54L584.81 531.24A22.26 22.26 0 1 0 599.53 492.28Z" fill="#fdae6b"/>
<circle cx="670.66" cy="514.54" r="31.00" fill="#bfbec1"/>
<circle cx="670.66" cy="514.54" r="25.34" fill="#fdae6b"/>
<path d="M670.66 514.54L670.66 488.70A25.84 25.84 0 0 0 645.28 519.38Z" fill="#cc3221"/>
<path d="M670.66 514.54L645.28 519.38A25.84 25.84 0 0 0 659.66 537.92Z" fill="#3f80b6"/>
<path d="M670.66 514.54L659.66 537.92A25.84 25.84 0 1 0 670.66 488.70Z" fill="#fdae6b"/>
<circle cx="741.82" cy="514.54" r="31.00" fill="#bfbec1"/>
<circle cx="741.82" cy="514.54" r="25.34" fill="#fdae6b"/>
<path d="M741.82 514.54L741.82 488.70A25.84 25.84 0 0 0 732.30 538.57Z" fill="#cc3221"/>
<path d="M741.82 514.54L732.30 538.57A25.84 25.84 0 0 0 739.39 540.27Z" fill="#3f80b6"/>
<path d="M741.82 514.54L739.39 540.27A25.84 25.84 0 1 0 741.82 488.70Z" fill="#fdae6b"/>
<circle cx="813.00" cy="514.54" r="27.60" fill="#bfbec1"/>
<circle cx="813.00" cy="514.54" r="21.76" fill="#cc3221"/>
<path d="M813.00 514.54L813.00 492.28A22.26 22.26 0 1 0 832.83 504.43Z" fill="#cc3221"/>

<path d="M813.00 514.54L832.83 504.43A22.26 22.26 0 0 0 813.00 492.28Z" fill="#fdae6b"/>
<circle cx="884.20" cy="514.54" r="28.00" fill="#bfbec1"/>
<circle cx="884.20" cy="514.54" r="22.18" fill="#cc3221"/>
<path d="M884.20 514.54L884.20 491.86A22.68 22.68 0 1 0 893.86 535.07Z" fill="#cc3221"/>
<path d="M884.20 514.54L893.86 535.07A22.68 22.68 0 0 0 903.35 526.69Z" fill="#3f80b6"/>
<path d="M884.20 514.54L903.35 526.69A22.68 22.68 0 0 0 884.20 491.86Z" fill="#fdae6b"/>
<circle cx="955.42" cy="514.54" r="29.20" fill="#bfbec1"/>
<circle cx="955.42" cy="514.54" r="23.45" fill="#cc3221"/>
<path d="M955.42 514.54L955.42 490.59A23.95 23.95 0 1 0 962.82 537.32Z" fill="#cc3221"/>
<path d="M955.42 514.54L962.82 537.32A23.95 23.95 0 0 0 969.86 533.65Z" fill="#3f80b6"/>
<path d="M955.42 514.54L969.86 533.65A23.95 23.95 0 0 0 955.42 490.59Z" fill="#fdae6b"/>
<circle cx="1026.67" cy="514.54" r="29.50" fill="#bfbec1"/>
<circle cx="1026.67" cy="514.54" r="23.76" fill="#fdae6b"/>
<path d="M1026.67 514.54L1026.67 490.28A24.26 24.26 0 0 0 1008.98 531.15Z" fill="#cc3221"/>
<path d="M1026.67 514.54L1008.98 531.15A24.26 24.26 0 0 0 1024.84 538.73Z" fill="#3f80b6"/>
<path d="M1026.67 514.54L1024.84 538.73A24.26 24.26 0 1 0 1026.67 490.28Z" fill="#fdae6b"/>
<circle cx="1097.94" cy="514.54" r="30.50" fill="#bfbec1"/>
<circle cx="1097.94" cy="514.54" r="24.82" fill="#fdae6b"/>
<path d="M1097.94 514.54L1097.94 489.22A25.32 25.32 0 0 0 1075.04 503.76Z" fill="#cc3221"/>

<path d="M1097.94 514.54L1075.04 503.76A25.32 25.32 0 1 0 1097.94 489.22Z" fill="#fdae6b"/>
<circle cx="1169.24" cy="514.54" r="29.50" fill="#bfbec1"/>
<circle cx="1169.24" cy="514.54" r="23.76" fill="#cc3221"/>
<path d="M1169.24 514.54L1169.24 490.28A24.26 24.26 0 1 0 1184.70 533.24Z" fill="#cc3221"/>
<path d="M1169.24 514.54L1184.70 533.24A24.26 24.26 0 0 0 1188.41 529.41Z" fill="#3f80b6"/>
<path d="M1169.24 514.54L1188.41 529.41A24.26 24.26 0 0 0 1169.24 490.28Z" fill="#fdae6b"/>
<circle cx="1240.55" cy="514.54" r="28.00" fill="#bfbec1"/>
<circle cx="1240.55" cy="514.54" r="22.18" fill="#cc3221"/>
<path d="M1240.55 514.54L1240.55 491.86A22.68 22.68 0 1 0 1241.98 491.90Z" fill="#cc3221"/>
<path d="M1240.55 514.54L1241.98 491.90A22.68 22.68 0 0 0 1240.55 491.86Z" fill="#3f80b6"/>

<circle cx="1311.89" cy="514.54" r="30.00" fill="#bfbec1"/>
<circle cx="1311.89" cy="514.54" r="24.29" fill="#fdae6b"/>
<path d="M1311.89 514.54L1311.89 489.75A24.79 24.79 0 0 0 1297.96 535.04Z" fill="#cc3221"/>
<path d="M1311.89 514.54L1297.96 535.04A24.79 24.79 0 0 0 1299.28 535.88Z" fill="#3f80b6"/>
<path d="M1311.89 514.54L1299.28 535.88A24.79 24.79 0 1 0 1311.89 489.75Z" fill="#fdae6b"/>
<circle cx="1383.26" cy="514.54" r="29.00" fill="#bfbec1"/>
<circle cx="1383.26" cy="514.54" r="23.24" fill="#cc3221"/>
<path d="M1383.26 514.54L1383.26 490.80A23.74 23.74 0 1 0 1393.36 536.02Z" fill="#cc3221"/>
<path d="M1383.26 514.54L1393.36 536.02A23.74 23.74 0 0 0 1398.39 532.83Z" fill="#3f80b6"/>
<path d="M1383.26 514.54L1398.39 532.83A23.74 23.74 0 0 0 1383.26 490.80Z" fill="#fdae6b"/>
<circle cx="1454.64" cy="514.54" r="25.00" fill="#bfbec1"/>
<circle cx="1454.64" cy="514.54" r="19.02" fill="#cc3221"/>
<path d="M1454.64 514.54L1454.64 495.01A19.52 19.52 0 1 0 1471.39 504.50Z" fill="#cc3221"/>
<path d="M1454.64 514.54L1471.39 504.50A19.52 19.52 0 0 0 1463.40 497.09Z" fill="#3f80b6"/>
<path d="M1454.64 514.54L1463.40 497.09A19.52 19.52 0 0 0 1454.64 495.01Z" fill="#fdae6b"/>
<circle cx="1526.05" cy="514.54" r="30.70" fill="#bfbec1"/>
<circle cx="1526.05" cy="514.54" r="25.03" fill="#fdae6b"/>
<path d="M1526.05 514.54L1526.05 489.01A25.53 25.53 0 0 0 1502.82 503.96Z" fill="#cc3221"/>
<path d="M1526.05 514.54L1502.82 503.96A25.53 25.53 0 0 0 1504.67 528.49Z" fill="#3f80b6"/>
<path d="M1526.05 514.54L1504.67 528.49A25.53 25.53 0 1 0 1526.05 489.01Z" fill="#fdae6b"/>
<circle cx="1597.49" cy="514.54" r="29.70" fill="#bfbec1"/>
<circle cx="1597.49" cy="514.54" r="23.97" fill="#fdae6b"/>
<path d="M1597.49 514.54L1597.49 490.07A24.47 24.47 0 0 0 1588.19 537.18Z" fill="#cc3221"/>
<path d="M1597.49 514.54L1588.19 537.18A24.47 24.47 0 0 0 1603.27 538.32Z" fill="#3f80b6"/>
<path d="M1597.49 514.54L1603.27 538.32A24.47 24.47 0 0 0 1597.49 490.07Z" fill="#fdae6b"/>
<circle cx="1668.94" cy="514.54" r="28.20" fill="#bfbec1"/>
<circle cx="1668.94" cy="514.54" r="22.39" fill="#cc3221"/>
<path d="M1668.94 514.54L1668.94 491.65A22.89 22.89 0 1 0 1675.60 492.64Z" fill="#cc3221"/>
<path d="M1668.94 514.54L1675.60 492.64A22.89 22.89 0 0 0 1671.67 491.81Z" fill="#3f80b6"/>
<path d="M1668.94 514.54L1671.67 491.81A22.89 22.89 0 0 0 1668.94 491.65Z" fill="#fdae6b"/>
<circle cx="1740.42" cy="514.54" r="28.00" fill="#bfbec1"/>
<circle cx="1740.42" cy="514.54" r="22.18" fill="#cc3221"/>
<path d="M1740.42 514.54L1740.42 491.86A22.68 22.68 0 0 0 1736.03 536.80Z" fill="#cc3221"/>
<path d="M1740.42 514.54L1736.03 536.80A22.68 22.68 0 0 0 1751.35 534.42Z" fill="#3f80b6"/>
<path d="M1740.42 514.54L1751.35 534.42A22.68 22.68 0 0 0 1740.42 491.86Z" fill="#fdae6b"/>
<circle cx="1811.92" cy="514.54" r="29.00" fill="#bfbec1"/>
<circle cx="1811.92" cy="514.54" r="23.24" fill="#cc3221"/>
<path d="M1811.92 514.54L1811.92 490.80A23.74 23.74 0 1 0 1815.64 537.98Z" fill="#cc3221"/>
<path d="M1811.92 514.54L1815.64 537.98A23.74 23.74 0 0 0 1824.39 534.74Z" fill="#3f80b6"/>
<path d="M1811.92 514.54L1824.39 534.74A23.74 23.74 0 0 0 1811.92 490.80Z" fill="#fdae6b"/>
</g>
<g><!-- PI3K  ( 29 ) -->
<circle cx="31.30" cy="585.71" r="26.00" fill="#bfbec1"/>
<circle cx="31.30" cy="585.71" r="20.08" fill="#cc3221"/>
<path d="M31.30 585.71L31.30 565.13A20.58 20.58 0 1 0 45.38 600.71Z" fill="#cc3221"/>
<path d="M31.30 585.71L45.38 600.71A20.58 20.58 0 0 0 51.83 584.42Z" fill="#3f80b6"/>
<path d="M31.30 585.71L51.83 584.42A20.58 20.58 0 0 0 31.30 565.13Z" fill="#fdae6b"/>
<circle cx="102.24" cy="585.71" r="26.00" fill="#bfbec1"/>
<circle cx="102.24" cy="585.71" r="20.08" fill="#fdae6b"/>
<path d="M102.24 585.71L102.24 565.13A20.58 20.58 0 0 0 86.39 572.59Z" fill="#cc3221"/>
<path d="M102.24 585.71L86.39 572.59A20.58 20.58 0 0 0 102.24 606.29Z" fill="#3f80b6"/>
<path d="M102.24 585.71L102.24 606.29A20.58 20.58 0 0 0 102.24 565.13Z" fill="#fdae6b"/>
<circle cx="173.22" cy="585.71" r="27.00" fill="#bfbec1"/>
<circle cx="173.22" cy="585.71" r="21.13" fill="#cc3221"/>
<path d="M173.22 585.71L173.22 564.08A21.63 21.63 0 1 0 175.93 607.17Z" fill="#cc3221"/>
<path d="M173.22 585.71L175.93 607.17A21.63 21.63 0 0 0 188.98 600.52Z" fill="#3f80b6"/>
<path d="M173.22 585.71L188.98 600.52A21.63 21.63 0 0 0 173.22 564.08Z" fill="#fdae6b"/>
<circle cx="244.21" cy="585.71" r="30.40" fill="#bfbec1"/>
<circle cx="244.21" cy="585.71" r="24.71" fill="#fdae6b"/>
<path d="M244.21 585.71L244.21 560.50A25.21 25.21 0 0 0 219.00 585.71Z" fill="#cc3221"/>
<path d="M244.21 585.71L219.00 585.71A25.21 25.21 0 0 0 219.01 586.50Z" fill="#3f80b6"/>
<path d="M244.21 585.71L219.01 586.50A25.21 25.21 0 1 0 244.21 560.50Z" fill="#fdae6b"/>
<circle cx="315.23" cy="585.71" r="31.50" fill="#bfbec1"/>
<circle cx="315.23" cy="585.71" r="25.87" fill="#3f80b6"/>
<path d="M315.23 585.71L315.23 559.34A26.37 26.37 0 0 0 291.03 575.24Z" fill="#cc3221"/>
<path d="M315.23 585.71L291.03 575.24A26.37 26.37 0 0 0 337.92 599.13Z" fill="#3f80b6"/>
<path d="M315.23 585.71L337.92 599.13A26.37 26.37 0 0 0 315.23 559.34Z" fill="#fdae6b"/>
<circle cx="386.27" cy="585.71" r="28.80" fill="#bfbec1"/>
<circle cx="386.27" cy="585.71" r="23.03" fill="#cc3221"/>
<path d="M386.27 585.71L386.27 562.18A23.53 23.53 0 0 0 381.86 608.82Z" fill="#cc3221"/>
<path d="M386.27 585.71L381.86 608.82A23.53 23.53 0 0 0 399.49 605.17Z" fill="#3f80b6"/>
<path d="M386.27 585.71L399.49 605.17A23.53 23.53 0 0 0 386.27 562.18Z" fill="#fdae6b"/>
<circle cx="457.33" cy="585.71" r="29.90" fill="#bfbec1"/>
<circle cx="457.33" cy="585.71" r="24.18" fill="#cc3221"/>
<path d="M457.33 585.71L457.33 561.03A24.68 24.68 0 1 0 458.88 610.35Z" fill="#cc3221"/>
<path d="M457.33 585.71L458.88 610.35A24.68 24.68 0 0 0 477.75 599.58Z" fill="#3f80b6"/>
<path d="M457.33 585.71L477.75 599.58A24.68 24.68 0 0 0 457.33 561.03Z" fill="#fdae6b"/>
<circle cx="528.42" cy="585.71" r="26.00" fill="#bfbec1"/>
<circle cx="528.42" cy="585.71" r="20.08" fill="#cc3221"/>
<path d="M528.42 585.71L528.42 565.13A20.58 20.58 0 1 0 546.57 576.02Z" fill="#cc3221"/>
<path d="M528.42 585.71L546.57 576.02A20.58 20.58 0 0 0 535.39 566.35Z" fill="#3f80b6"/>
<path d="M528.42 585.71L535.39 566.35A20.58 20.58 0 0 0 528.42 565.13Z" fill="#fdae6b"/>
<circle cx="599.53" cy="585.71" r="27.60" fill="#bfbec1"/>
<circle cx="599.53" cy="585.71" r="21.76" fill="#fdae6b"/>
<path d="M599.53 585.71L599.53 563.45A22.26 22.26 0 0 0 584.81 602.41Z" fill="#cc3221"/>
<path d="M599.53 585.71L584.81 602.41A22.26 22.26 0 0 0 599.53 607.97Z" fill="#3f80b6"/>
<path d="M599.53 585.71L599.53 607.97A22.26 22.26 0 0 0 599.53 563.45Z" fill="#fdae6b"/>
<circle cx="670.66" cy="585.71" r="28.60" fill="#bfbec1"/>
<circle cx="670.66" cy="585.71" r="22.82" fill="#cc3221"/>
<path d="M670.66 585.71L670.66 562.39A23.32 23.32 0 1 0 690.88 597.33Z" fill="#cc3221"/>

<path d="M670.66 585.71L690.88 597.33A23.32 23.32 0 0 0 670.66 562.39Z" fill="#fdae6b"/>
<circle cx="741.82" cy="585.71" r="30.00" fill="#bfbec1"/>
<circle cx="741.82" cy="585.71" r="24.29" fill="#fdae6b"/>
<path d="M741.82 585.71L741.82 560.92A24.79 24.79 0 0 0 741.04 610.49Z" fill="#cc3221"/>
<path d="M741.82 585.71L741.04 610.49A24.79 24.79 0 0 0 741.82 610.50Z" fill="#3f80b6"/>
<path d="M741.82 585.71L741.82 610.50A24.79 24.79 0 0 0 741.82 560.92Z" fill="#fdae6b"/>
<circle cx="813.00" cy="585.71" r="28.20" fill="#bfbec1"/>
<circle cx="813.00" cy="585.71" r="22.39" fill="#cc3221"/>
<path d="M813.00 585.71L813.00 562.82A22.89 22.89 0 1 0 835.85 584.27Z" fill="#cc3221"/>

<path d="M813.00 585.71L835.85 584.27A22.89 22.89 0 0 0 813.00 562.82Z" fill="#fdae6b"/>
<circle cx="884.20" cy="585.71" r="26.70" fill="#bfbec1"/>
<circle cx="884.20" cy="585.71" r="20.82" fill="#cc3221"/>
<path d="M884.20 585.71L884.20 564.39A21.32 21.32 0 1 0 905.35 583.04Z" fill="#cc3221"/>
<path d="M884.20 585.71L905.35 583.04A21.32 21.32 0 0 0 904.02 577.86Z" fill="#3f80b6"/>
<path d="M884.20 585.71L904.02 577.86A21.32 21.32 0 0 0 884.20 564.39Z" fill="#fdae6b"/>
<circle cx="955.42" cy="585.71" r="29.20" fill="#bfbec1"/>
<circle cx="955.42" cy="585.71" r="23.45" fill="#cc3221"/>
<path d="M955.42 585.71L955.42 561.76A23.95 23.95 0 1 0 973.39 601.55Z" fill="#cc3221"/>
<path d="M955.42 585.71L973.39 601.55A23.95 23.95 0 0 0 976.76 596.58Z" fill="#3f80b6"/>
<path d="M955.42 585.71L976.76 596.58A23.95 23.95 0 0 0 955.42 561.76Z" fill="#fdae6b"/>
<circle cx="1026.67" cy="585.71" r="27.60" fill="#bfbec1"/>
<circle cx="1026.67" cy="585.71" r="21.76" fill="#fdae6b"/>
<path d="M1026.67 585.71L1026.67 563.45A22.26 22.26 0 0 0 1004.45 587.11Z" fill="#cc3221"/>
<path d="M1026.67 585.71L1004.45 587.11A22.26 22.26 0 0 0 1004.80 589.88Z" fill="#3f80b6"/>
<path d="M1026.67 585.71L1004.80 589.88A22.26 22.26 0 1 0 1026.67 563.45Z" fill="#fdae6b"/>
<circle cx="1097.94" cy="585.71" r="29.70" fill="#bfbec1"/>
<circle cx="1097.94" cy="585.71" r="23.97" fill="#fdae6b"/>
<path d="M1097.94 585.71L1097.94 561.24A24.47 24.47 0 0 0 1084.06 565.55Z" fill="#cc3221"/>
<path d="M1097.94 585.71L1084.06 565.55A24.47 24.47 0 0 0 1076.21 574.46Z" fill="#3f80b6"/>
<path d="M1097.94 585.71L1076.21 574.46A24.47 24.47 0 1 0 1097.94 561.24Z" fill="#fdae6b"/>
<circle cx="1169.24" cy="585.71" r="29.50" fill="#bfbec1"/>
<circle cx="1169.24" cy="585.71" r="23.76" fill="#cc3221"/>
<path d="M1169.24 585.71L1169.24 561.45A24.26 24.26 0 1 0 1192.74 579.68Z" fill="#cc3221"/>

<path d="M1169.24 585.71L1192.74 579.68A24.26 24.26 0 0 0 1169.24 561.45Z" fill="#fdae6b"/>
<circle cx="1240.55" cy="585.71" r="27.20" fill="#bfbec1"/>
<circle cx="1240.55" cy="585.71" r="21.34" fill="#cc3221"/>
<path d="M1240.55 585.71L1240.55 563.87A21.84 21.84 0 1 0 1241.93 563.91Z" fill="#cc3221"/>
<path d="M1240.55 585.71L1241.93 563.91A21.84 21.84 0 0 0 1240.55 563.87Z" fill="#3f80b6"/>

<circle cx="1311.89" cy="585.71" r="29.50" fill="#bfbec1"/>
<circle cx="1311.89" cy="585.71" r="23.76" fill="#cc3221"/>
<path d="M1311.89 585.71L1311.89 561.45A24.26 24.26 0 0 0 1309.61 609.87Z" fill="#cc3221"/>
<path d="M1311.89 585.71L1309.61 609.87A24.26 24.26 0 0 0 1320.11 608.54Z" fill="#3f80b6"/>
<path d="M1311.89 585.71L1320.11 608.54A24.26 24.26 0 0 0 1311.89 561.45Z" fill="#fdae6b"/>
<circle cx="1383.26" cy="585.71" r="29.60" fill="#bfbec1"/>
<circle cx="1383.26" cy="585.71" r="23.87" fill="#cc3221"/>
<path d="M1383.26 585.71L1383.26 561.34A24.37 24.37 0 1 0 1407.58 587.24Z" fill="#cc3221"/>
<path d="M1383.26 585.71L1407.58 587.24A24.37 24.37 0 0 0 1407.52 583.42Z" fill="#3f80b6"/>
<path d="M1383.26 585.71L1407.52 583.42A24.37 24.37 0 0 0 1383.26 561.34Z" fill="#fdae6b"/>
<circle cx="1454.64" cy="585.71" r="22.00" fill="#bfbec1"/>
<circle cx="1454.64" cy="585.71" r="15.87" fill="#cc3221"/>
<path d="M1454.64 585.71L1454.64 569.34A16.37 16.37 0 1 0 1462.98 571.62Z" fill="#cc3221"/>
<path d="M1454.64 585.71L1462.98 571.62A16.37 16.37 0 0 0 1455.16 569.35Z" fill="#3f80b6"/>
<path d="M1454.64 585.71L1455.16 569.35A16.37 16.37 0 0 0 1454.64 569.34Z" fill="#fdae6b"/>
<circle cx="1526.05" cy="585.71" r="27.30" fill="#bfbec1"/>
<circle cx="1526.05" cy="585.71" r="21.45" fill="#fdae6b"/>
<path d="M1526.05 585.71L1526.05 563.76A21.95 21.95 0 0 0 1504.11 585.71Z" fill="#cc3221"/>
<path d="M1526.05 585.71L1504.11 585.71A21.95 21.95 0 0 0 1523.99 607.56Z" fill="#3f80b6"/>
<path d="M1526.05 585.71L1523.99 607.56A21.95 21.95 0 1 0 1526.05 563.76Z" fill="#fdae6b"/>
<circle cx="1597.49" cy="585.71" r="29.70" fill="#bfbec1"/>
<circle cx="1597.49" cy="585.71" r="23.97" fill="#fdae6b"/>
<path d="M1597.49 585.71L1597.49 561.24A24.47 24.47 0 0 0 1582.61 605.14Z" fill="#cc3221"/>
<path d="M1597.49 585.71L1582.61 605.14A24.47 24.47 0 0 0 1592.30 609.63Z" fill="#3f80b6"/>
<path d="M1597.49 585.71L1592.30 609.63A24.47 24.47 0 1 0 1597.49 561.24Z" fill="#fdae6b"/>
<circle cx="1668.94" cy="585.71" r="28.00" fill="#bfbec1"/>
<circle cx="1668.94" cy="585.71" r="22.18" fill="#cc3221"/>
<path d="M1668.94 585.71L1668.94 563.03A22.68 22.68 0 1 0 1670.37 563.07Z" fill="#cc3221"/>

<path d="M1668.94 585.71L1670.37 563.07A22.68 22.68 0 0 0 1668.94 563.03Z" fill="#fdae6b"/>
<circle cx="1740.42" cy="585.71" r="28.00" fill="#bfbec1"/>
<circle cx="1740.42" cy="585.71" r="22.18" fill="#fdae6b"/>
<path d="M1740.42 585.71L1740.42 563.03A22.68 22.68 0 0 0 1732.34 564.52Z" fill="#cc3221"/>
<path d="M1740.42 585.71L1732.34 564.52A22.68 22.68 0 0 0 1717.93 588.69Z" fill="#3f80b6"/>
<path d="M1740.42 585.71L1717.93 588.69A22.68 22.68 0 1 0 1740.42 563.03Z" fill="#fdae6b"/>
<circle cx="1811.92" cy="585.71" r="28.60" fill="#bfbec1"/>
<circle cx="1811.92" cy="585.71" r="22.82" fill="#cc3221"/>
<path d="M1811.92 585.71L1811.92 562.39A23.32 23.32 0 1 0 1819.68 607.70Z" fill="#cc3221"/>
<path d="M1811.92 585.71L1819.68 607.70A23.32 23.32 0 0 0 1827.01 603.49Z" fill="#3f80b6"/>
<path d="M1811.92 585.71L1827.01 603.49A23.32 23.32 0 0 0 1811.92 562.39Z" fill="#fdae6b"/>
</g>
<g><!-- Cell Cycle  ( 15 ) -->
<circle cx="31.30" cy="656.88" r="22.70" fill="#bfbec1"/>
<circle cx="31.30" cy="656.88" r="16.60" fill="#cc3221"/>
<path d="M31.30 656.88L31.30 639.78A17.10 17.10 0 0 0 31.29 673.98Z" fill="#cc3221"/>
<path d="M31.30 656.88L31.29 673.98A17.10 17.10 0 0 0 47.72 652.11Z" fill="#3f80b6"/>
<path d="M31.30 656.88L47.72 652.11A17.10 17.10 0 0 0 31.30 639.78Z" fill="#fdae6b"/>
<circle cx="102.24" cy="656.88" r="30.00" fill="#bfbec1"/>
<circle cx="102.24" cy="656.88" r="24.29" fill="#3f80b6"/>
<path d="M102.24 656.88L102.24 632.09A24.79 24.79 0 0 0 88.31 636.38Z" fill="#cc3221"/>
<path d="M102.24 656.88L88.31 636.38A24.79 24.79 0 1 0 126.80 653.46Z" fill="#3f80b6"/>
<path d="M102.24 656.88L126.80 653.46A24.79 24.79 0 0 0 102.24 632.09Z" fill="#fdae6b"/>
<circle cx="173.22" cy="656.88" r="30.00" fill="#bfbec1"/>
<circle cx="173.22" cy="656.88" r="24.29" fill="#fdae6b"/>
<path d="M173.22 656.88L173.22 632.09A24.79 24.79 0 0 0 158.27 637.10Z" fill="#cc3221"/>
<path d="M173.22 656.88L158.27 637.10A24.79 24.79 0 0 0 172.13 681.65Z" fill="#3f80b6"/>
<path d="M173.22 656.88L172.13 681.65A24.79 24.79 0 1 0 173.22 632.09Z" fill="#fdae6b"/>
<circle cx="244.21" cy="656.88" r="27.30" fill="#bfbec1"/>
<circle cx="244.21" cy="656.88" r="21.45" fill="#cc3221"/>
<path d="M244.21 656.88L244.21 634.93A21.95 21.95 0 1 0 250.99 677.75Z" fill="#cc3221"/>
<path d="M244.21 656.88L250.99 677.75A21.95 21.95 0 0 0 258.93 673.16Z" fill="#3f80b6"/>
<path d="M244.21 656.88L258.93 673.16A21.95 21.95 0 0 0 244.21 634.93Z" fill="#fdae6b"/>
<circle cx="315.23" cy="656.88" r="25.50" fill="#bfbec1"/>
<circle cx="315.23" cy="656.88" r="19.55" fill="#cc3221"/>
<path d="M315.23 656.88L315.23 636.83A20.05 20.05 0 0 0 315.23 676.93Z" fill="#cc3221"/>
<path d="M315.23 656.88L315.23 676.93A20.05 20.05 0 0 0 315.23 636.83Z" fill="#3f80b6"/>

<circle cx="386.27" cy="656.88" r="23.80" fill="#bfbec1"/>
<circle cx="386.27" cy="656.88" r="17.76" fill="#cc3221"/>
<path d="M386.27 656.88L386.27 638.62A18.26 18.26 0 1 0 394.56 640.61Z" fill="#cc3221"/>

<path d="M386.27 656.88L394.56 640.61A18.26 18.26 0 0 0 386.27 638.62Z" fill="#fdae6b"/>
<circle cx="457.33" cy="656.88" r="29.20" fill="#bfbec1"/>
<circle cx="457.33" cy="656.88" r="23.45" fill="#fdae6b"/>
<path d="M457.33 656.88L457.33 632.93A23.95 23.95 0 0 0 434.90 648.49Z" fill="#cc3221"/>
<path d="M457.33 656.88L434.90 648.49A23.95 23.95 0 0 0 470.42 676.94Z" fill="#3f80b6"/>
<path d="M457.33 656.88L470.42 676.94A23.95 23.95 0 0 0 457.33 632.93Z" fill="#fdae6b"/>
<circle cx="528.42" cy="656.88" r="23.90" fill="#bfbec1"/>
<circle cx="528.42" cy="656.88" r="17.87" fill="#cc3221"/>
<path d="M528.42 656.88L528.42 638.51A18.37 18.37 0 1 0 542.27 668.94Z" fill="#cc3221"/>
<path d="M528.42 656.88L542.27 668.94A18.37 18.37 0 0 0 546.37 660.77Z" fill="#3f80b6"/>
<path d="M528.42 656.88L546.37 660.77A18.37 18.37 0 0 0 528.42 638.51Z" fill="#fdae6b"/>
<circle cx="599.53" cy="656.88" r="25.80" fill="#bfbec1"/>
<circle cx="599.53" cy="656.88" r="19.87" fill="#cc3221"/>
<path d="M599.53 656.88L599.53 636.51A20.37 20.37 0 0 0 599.53 677.25Z" fill="#cc3221"/>
<path d="M599.53 656.88L599.53 677.25A20.37 20.37 0 0 0 619.43 661.20Z" fill="#3f80b6"/>
<path d="M599.53 656.88L619.43 661.20A20.37 20.37 0 0 0 599.53 636.51Z" fill="#fdae6b"/>
<circle cx="670.66" cy="656.88" r="18.90" fill="#bfbec1"/>
<circle cx="670.66" cy="656.88" r="12.60" fill="#cc3221"/>
<path d="M670.66 656.88L670.66 643.78A13.10 13.10 0 0 0 670.66 669.98Z" fill="#cc3221"/>

<path d="M670.66 656.88L670.66 669.98A13.10 13.10 0 0 0 670.66 643.78Z" fill="#fdae6b"/>
<circle cx="741.82" cy="656.88" r="27.30" fill="#bfbec1"/>
<circle cx="741.82" cy="656.88" r="21.45" fill="#cc3221"/>
<path d="M741.82 656.88L741.82 634.93A21.95 21.95 0 0 0 730.06 675.41Z" fill="#cc3221"/>
<path d="M741.82 656.88L730.06 675.41A21.95 21.95 0 0 0 758.82 670.76Z" fill="#3f80b6"/>
<path d="M741.82 656.88L758.82 670.76A21.95 21.95 0 0 0 741.82 634.93Z" fill="#fdae6b"/>
<circle cx="813.00" cy="656.88" r="24.80" fill="#bfbec1"/>
<circle cx="813.00" cy="656.88" r="18.81" fill="#cc3221"/>
<path d="M813.00 656.88L813.00 637.57A19.31 19.31 0 1 0 823.75 640.84Z" fill="#cc3221"/>

<path d="M813.00 656.88L823.75 640.84A19.31 19.31 0 0 0 813.00 637.57Z" fill="#fdae6b"/>
<circle cx="884.20" cy="656.88" r="21.00" fill="#bfbec1"/>
<circle cx="884.20" cy="656.88" r="14.81" fill="#cc3221"/>
<path d="M884.20 656.88L884.20 641.57A15.31 15.31 0 1 0 897.13 648.67Z" fill="#cc3221"/>
<path d="M884.20 656.88L897.13 648.67A15.31 15.31 0 0 0 893.96 645.08Z" fill="#3f80b6"/>
<path d="M884.20 656.88L893.96 645.08A15.31 15.31 0 0 0 884.20 641.57Z" fill="#fdae6b"/>
<circle cx="955.42" cy="656.88" r="23.90" fill="#bfbec1"/>
<circle cx="955.42" cy="656.88" r="17.87" fill="#cc3221"/>
<path d="M955.42 656.88L955.42 638.51A18.37 18.37 0 1 0 973.71 658.61Z" fill="#cc3221"/>
<path d="M955.42 656.88L973.71 658.61A18.37 18.37 0 0 0 973.44 653.33Z" fill="#3f80b6"/>
<path d="M955.42 656.88L973.44 653.33A18.37 18.37 0 0 0 955.42 638.51Z" fill="#fdae6b"/>
<circle cx="1026.67" cy="656.88" r="29.20" fill="#bfbec1"/>
<circle cx="1026.67" cy="656.88" r="23.45" fill="#fdae6b"/>
<path d="M1026.67 656.88L1026.67 632.93A23.95 23.95 0 0 0 1006.14 669.20Z" fill="#cc3221"/>
<path d="M1026.67 656.88L1006.14 669.20A23.95 23.95 0 0 0 1024.72 680.75Z" fill="#3f80b6"/>
<path d="M1026.67 656.88L1024.72 680.75A23.95 23.95 0 1 0 1026.67 632.93Z" fill="#fdae6b"/>
<circle cx="1097.94" cy="656.88" r="29.20" fill="#bfbec1"/>
<circle cx="1097.94" cy="656.88" r="23.45" fill="#fdae6b"/>
<path d="M1097.94 656.88L1097.94 632.93A23.95 23.95 0 0 0 1074.03 658.08Z" fill="#cc3221"/>
<path d="M1097.94 656.88L1074.03 658.08A23.95 23.95 0 0 0 1090.69 679.70Z" fill="#3f80b6"/>
<path d="M1097.94 656.88L1090.69 679.70A23.95 23.95 0 1 0 1097.94 632.93Z" fill="#fdae6b"/>
<circle cx="1169.24" cy="656.88" r="26.00" fill="#bfbec1"/>
<circle cx="1169.24" cy="656.88" r="20.08" fill="#cc3221"/>
<path d="M1169.24 656.88L1169.24 636.30A20.58 20.58 0 1 0 1180.80 673.90Z" fill="#cc3221"/>
<path d="M1169.24 656.88L1180.80 673.90A20.58 20.58 0 0 0 1188.85 663.12Z" fill="#3f80b6"/>
<path d="M1169.24 656.88L1188.85 663.12A20.58 20.58 0 0 0 1169.24 636.30Z" fill="#fdae6b"/>
<circle cx="1240.55" cy="656.88" r="23.10" fill="#bfbec1"/>
<circle cx="1240.55" cy="656.88" r="17.02" fill="#cc3221"/>
<path d="M1240.55 656.88L1240.55 639.36A17.52 17.52 0 1 0 1243.30 639.57Z" fill="#cc3221"/>
<path d="M1240.55 656.88L1243.30 639.57A17.52 17.52 0 0 0 1241.10 639.36Z" fill="#3f80b6"/>
<path d="M1240.55 656.88L1241.10 639.36A17.52 17.52 0 0 0 1240.55 639.36Z" fill="#fdae6b"/>
<circle cx="1311.89" cy="656.88" r="28.60" fill="#bfbec1"/>
<circle cx="1311.89" cy="656.88" r="22.82" fill="#cc3221"/>
<path d="M1311.89 656.88L1311.89 633.56A23.32 23.32 0 1 0 1314.82 680.01Z" fill="#cc3221"/>
<path d="M1311.89 656.88L1314.82 680.01A23.32 23.32 0 0 0 1332.11 668.50Z" fill="#3f80b6"/>
<path d="M1311.89 656.88L1332.11 668.50A23.32 23.32 0 0 0 1311.89 633.56Z" fill="#fdae6b"/>
<circle cx="1383.26" cy="656.88" r="29.60" fill="#bfbec1"/>
<circle cx="1383.26" cy="656.88" r="23.87" fill="#fdae6b"/>
<path d="M1383.26 656.88L1383.26 632.51A24.37 24.37 0 0 0 1360.66 665.99Z" fill="#cc3221"/>
<path d="M1383.26 656.88L1360.66 665.99A24.37 24.37 0 0 0 1376.75 680.36Z" fill="#3f80b6"/>
<path d="M1383.26 656.88L1376.75 680.36A24.37 24.37 0 1 0 1383.26 632.51Z" fill="#fdae6b"/>
<circle cx="1454.64" cy="656.88" r="16.50" fill="#bfbec1"/>
<circle cx="1454.64" cy="656.88" r="10.07" fill="#cc3221"/>
<circle cx="1454.64" cy="656.88" r="10.57" fill="#cc3221"/>


<circle cx="1526.05" cy="656.88" r="26.30" fill="#bfbec1"/>
<circle cx="1526.05" cy="656.88" r="20.39" fill="#3f80b6"/>
<path d="M1526.05 656.88L1526.05 635.99A20.89 20.89 0 0 0 1506.63 664.57Z" fill="#cc3221"/>
<path d="M1526.05 656.88L1506.63 664.57A20.89 20.89 0 0 0 1546.78 659.50Z" fill="#3f80b6"/>
<path d="M1526.05 656.88L1546.78 659.50A20.89 20.89 0 0 0 1526.05 635.99Z" fill="#fdae6b"/>
<circle cx="1597.49" cy="656.88" r="27.30" fill="#bfbec1"/>
<circle cx="1597.49" cy="656.88" r="21.45" fill="#cc3221"/>
<path d="M1597.49 656.88L1597.49 634.93A21.95 21.95 0 0 0 1593.10 678.38Z" fill="#cc3221"/>
<path d="M1597.49 656.88L1593.10 678.38A21.95 21.95 0 0 0 1613.00 672.40Z" fill="#3f80b6"/>
<path d="M1597.49 656.88L1613.00 672.40A21.95 21.95 0 0 0 1597.49 634.93Z" fill="#fdae6b"/>
<circle cx="1668.94" cy="656.88" r="22.20" fill="#bfbec1"/>
<circle cx="1668.94" cy="656.88" r="16.08" fill="#cc3221"/>
<path d="M1668.94 656.88L1668.94 640.30A16.58 16.58 0 1 0 1674.56 641.28Z" fill="#cc3221"/>

<path d="M1668.94 656.88L1674.56 641.28A16.58 16.58 0 0 0 1668.94 640.30Z" fill="#fdae6b"/>
<circle cx="1740.42" cy="656.88" r="24.10" fill="#bfbec1"/>
<circle cx="1740.42" cy="656.88" r="18.08" fill="#cc3221"/>
<path d="M1740.42 656.88L1740.42 638.30A18.58 18.58 0 0 0 1730.37 672.50Z" fill="#cc3221"/>
<path d="M1740.42 656.88L1730.37 672.50A18.58 18.58 0 0 0 1758.09 662.62Z" fill="#3f80b6"/>
<path d="M1740.42 656.88L1758.09 662.62A18.58 18.58 0 0 0 1740.42 638.30Z" fill="#fdae6b"/>
<circle cx="1811.92" cy="656.88" r="25.40" fill="#bfbec1"/>
<circle cx="1811.92" cy="656.88" r="19.45" fill="#cc3221"/>
<path d="M1811.92 656.88L1811.92 636.93A19.95 19.95 0 1 0 1813.92 676.73Z" fill="#cc3221"/>
<path d="M1811.92 656.88L1813.92 676.73A19.95 19.95 0 0 0 1830.65 663.75Z" fill="#3f80b6"/>
<path d="M1811.92 656.88L1830.65 663.75A19.95 19.95 0 0 0 1811.92 636.93Z" fill="#fdae6b"/>
</g>
<g><!-- TP53  ( 6 ) -->
<circle cx="31.30" cy="728.05" r="19.40" fill="#bfbec1"/>
<circle cx="31.30" cy="728.05" r="13.13" fill="#cc3221"/>
<path d="M31.30 728.05L31.30 714.42A13.63 13.63 0 1 0 43.40 734.31Z" fill="#cc3221"/>
<path d="M31.30 728.05L43.40 734.31A13.63 13.63 0 0 0 31.30 714.42Z" fill="#3f80b6"/>

<circle cx="102.24" cy="728.05" r="24.80" fill="#bfbec1"/>
<circle cx="102.24" cy="728.05" r="18.81" fill="#3f80b6"/>

<path d="M102.24 728.05L102.24 708.74A19.31 19.31 0 1 0 116.32 714.83Z" fill="#3f80b6"/>
<path d="M102.24 728.05L116.32 714.83A19.31 19.31 0 0 0 102.24 708.74Z" fill="#fdae6b"/>
<circle cx="173.22" cy="728.05" r="27.00" fill="#bfbec1"/>
<circle cx="173.22" cy="728.05" r="21.13" fill="#fdae6b"/>
<path d="M173.22 728.05L173.22 706.42A21.63 21.63 0 0 0 154.95 716.46Z" fill="#cc3221"/>
<path d="M173.22 728.05L154.95 716.46A21.63 21.63 0 0 0 175.52 749.56Z" fill="#3f80b6"/>
<path d="M173.22 728.05L175.52 749.56A21.63 21.63 0 0 0 173.22 706.42Z" fill="#fdae6b"/>
<circle cx="244.21" cy="728.05" r="29.20" fill="#bfbec1"/>
<circle cx="244.21" cy="728.05" r="23.45" fill="#fdae6b"/>
<path d="M244.21 728.05L244.21 704.10A23.95 23.95 0 0 0 220.69 732.54Z" fill="#cc3221"/>
<path d="M244.21 728.05L220.69 732.54A23.95 23.95 0 0 0 253.03 750.32Z" fill="#3f80b6"/>
<path d="M244.21 728.05L253.03 750.32A23.95 23.95 0 0 0 244.21 704.10Z" fill="#fdae6b"/>
<circle cx="315.23" cy="728.05" r="28.30" fill="#bfbec1"/>
<circle cx="315.23" cy="728.05" r="22.50" fill="#fdae6b"/>
<path d="M315.23 728.05L315.23 705.05A23.00 23.00 0 0 0 292.85 722.75Z" fill="#cc3221"/>
<path d="M315.23 728.05L292.85 722.75A23.00 23.00 0 0 0 329.21 746.31Z" fill="#3f80b6"/>
<path d="M315.23 728.05L329.21 746.31A23.00 23.00 0 0 0 315.23 705.05Z" fill="#fdae6b"/>
<circle cx="386.27" cy="728.05" r="17.80" fill="#bfbec1"/>
<circle cx="386.27" cy="728.05" r="11.44" fill="#cc3221"/>
<path d="M386.27 728.05L386.27 716.11A11.94 11.94 0 0 0 386.27 739.99Z" fill="#cc3221"/>
<path d="M386.27 728.05L386.27 739.99A11.94 11.94 0 0 0 386.27 716.11Z" fill="#3f80b6"/>

<circle cx="457.33" cy="728.05" r="23.50" fill="#bfbec1"/>
<circle cx="457.33" cy="728.05" r="17.45" fill="#fdae6b"/>
<path d="M457.33 728.05L457.33 710.10A17.95 17.95 0 0 0 450.00 711.67Z" fill="#cc3221"/>
<path d="M457.33 728.05L450.00 711.67A17.95 17.95 0 0 0 459.80 745.82Z" fill="#3f80b6"/>
<path d="M457.33 728.05L459.80 745.82A17.95 17.95 0 0 0 457.33 710.10Z" fill="#fdae6b"/>
<circle cx="528.42" cy="728.05" r="21.00" fill="#bfbec1"/>
<circle cx="528.42" cy="728.05" r="14.81" fill="#3f80b6"/>

<path d="M528.42 728.05L528.42 712.74A15.31 15.31 0 1 0 543.50 730.73Z" fill="#3f80b6"/>
<path d="M528.42 728.05L543.50 730.73A15.31 15.31 0 0 0 528.42 712.74Z" fill="#fdae6b"/>
<circle cx="599.53" cy="728.05" r="25.40" fill="#bfbec1"/>
<circle cx="599.53" cy="728.05" r="19.45" fill="#3f80b6"/>
<path d="M599.53 728.05L599.53 708.10A19.95 19.95 0 0 0 580.98 720.71Z" fill="#cc3221"/>
<path d="M599.53 728.05L580.98 720.71A19.95 19.95 0 1 0 614.74 715.14Z" fill="#3f80b6"/>
<path d="M599.53 728.05L614.74 715.14A19.95 19.95 0 0 0 599.53 708.10Z" fill="#fdae6b"/>
<circle cx="670.66" cy="728.05" r="26.30" fill="#bfbec1"/>
<circle cx="670.66" cy="728.05" r="20.39" fill="#3f80b6"/>
<path d="M670.66 728.05L670.66 707.16A20.89 20.89 0 0 0 669.35 707.20Z" fill="#cc3221"/>
<path d="M670.66 728.05L669.35 707.20A20.89 20.89 0 1 0 670.66 707.16Z" fill="#3f80b6"/>

<circle cx="741.82" cy="728.05" r="24.10" fill="#bfbec1"/>
<circle cx="741.82" cy="728.05" r="18.08" fill="#cc3221"/>
<path d="M741.82 728.05L741.82 709.47A18.58 18.58 0 0 0 728.68 741.19Z" fill="#cc3221"/>
<path d="M741.82 728.05L728.68 741.19A18.58 18.58 0 0 0 755.75 740.34Z" fill="#3f80b6"/>
<path d="M741.82 728.05L755.75 740.34A18.58 18.58 0 0 0 741.82 709.47Z" fill="#fdae6b"/>
<circle cx="813.00" cy="728.05" r="20.00" fill="#bfbec1"/>
<circle cx="813.00" cy="728.05" r="13.76" fill="#cc3221"/>
<path d="M813.00 728.05L813.00 713.79A14.26 14.26 0 1 0 827.26 728.05Z" fill="#cc3221"/>
<path d="M813.00 728.05L827.26 728.05A14.26 14.26 0 0 0 813.00 713.79Z" fill="#3f80b6"/>

<circle cx="884.20" cy="728.05" r="17.90" fill="#bfbec1"/>
<circle cx="884.20" cy="728.05" r="11.55" fill="#cc3221"/>
<path d="M884.20 728.05L884.20 716.00A12.05 12.05 0 1 0 894.16 734.82Z" fill="#cc3221"/>
<path d="M884.20 728.05L894.16 734.82A12.05 12.05 0 0 0 895.96 725.42Z" fill="#3f80b6"/>
<path d="M884.20 728.05L895.96 725.42A12.05 12.05 0 0 0 884.20 716.00Z" fill="#fdae6b"/>
<circle cx="955.42" cy="728.05" r="25.20" fill="#bfbec1"/>
<circle cx="955.42" cy="728.05" r="19.24" fill="#cc3221"/>
<path d="M955.42 728.05L955.42 708.31A19.74 19.74 0 0 0 955.42 747.79Z" fill="#cc3221"/>
<path d="M955.42 728.05L955.42 747.79A19.74 19.74 0 0 0 974.92 731.14Z" fill="#3f80b6"/>
<path d="M955.42 728.05L974.92 731.14A19.74 19.74 0 0 0 955.42 708.31Z" fill="#fdae6b"/>
<circle cx="1026.67" cy="728.05" r="26.00" fill="#bfbec1"/>
<circle cx="1026.67" cy="728.05" r="20.08" fill="#3f80b6"/>
<path d="M1026.67 728.05L1026.67 707.47A20.58 20.58 0 0 0 1006.20 725.98Z" fill="#cc3221"/>
<path d="M1026.67 728.05L1006.20 725.98A20.58 20.58 0 1 0 1042.53 714.93Z" fill="#3f80b6"/>
<path d="M1026.67 728.05L1042.53 714.93A20.58 20.58 0 0 0 1026.67 707.47Z" fill="#fdae6b"/>
<circle cx="1097.94" cy="728.05" r="28.00" fill="#bfbec1"/>
<circle cx="1097.94" cy="728.05" r="22.18" fill="#3f80b6"/>
<path d="M1097.94 728.05L1097.94 705.37A22.68 22.68 0 0 0 1083.48 710.57Z" fill="#cc3221"/>
<path d="M1097.94 728.05L1083.48 710.57A22.68 22.68 0 0 0 1109.37 747.65Z" fill="#3f80b6"/>
<path d="M1097.94 728.05L1109.37 747.65A22.68 22.68 0 0 0 1097.94 705.37Z" fill="#fdae6b"/>
<circle cx="1169.24" cy="728.05" r="24.10" fill="#bfbec1"/>
<circle cx="1169.24" cy="728.05" r="18.08" fill="#cc3221"/>
<path d="M1169.24 728.05L1169.24 709.47A18.58 18.58 0 1 0 1176.93 744.96Z" fill="#cc3221"/>
<path d="M1169.24 728.05L1176.93 744.96A18.58 18.58 0 0 0 1187.44 731.76Z" fill="#3f80b6"/>
<path d="M1169.24 728.05L1187.44 731.76A18.58 18.58 0 0 0 1169.24 709.47Z" fill="#fdae6b"/>
<circle cx="1240.55" cy="728.05" r="22.90" fill="#bfbec1"/>
<circle cx="1240.55" cy="728.05" r="16.81" fill="#cc3221"/>
<path d="M1240.55 728.05L1240.55 710.74A17.31 17.31 0 1 0 1257.87 728.05Z" fill="#cc3221"/>
<path d="M1240.55 728.05L1257.87 728.05A17.31 17.31 0 0 0 1254.62 717.96Z" fill="#3f80b6"/>
<path d="M1240.55 728.05L1254.62 717.96A17.31 17.31 0 0 0 1240.55 710.74Z" fill="#fdae6b"/>
<circle cx="1311.89" cy="728.05" r="29.70" fill="#bfbec1"/>
<circle cx="1311.89" cy="728.05" r="23.97" fill="#fdae6b"/>
<path d="M1311.89 728.05L1311.89 703.58A24.47 24.47 0 0 0 1295.83 709.59Z" fill="#cc3221"/>
<path d="M1311.89 728.05L1295.83 709.59A24.47 24.47 0 0 0 1319.89 751.18Z" fill="#3f80b6"/>
<path d="M1311.89 728.05L1319.89 751.18A24.47 24.47 0 0 0 1311.89 703.58Z" fill="#fdae6b"/>
<circle cx="1383.26" cy="728.05" r="27.70" fill="#bfbec1"/>
<circle cx="1383.26" cy="728.05" r="21.87" fill="#fdae6b"/>
<path d="M1383.26 728.05L1383.26 705.68A22.37 22.37 0 0 0 1363.33 717.90Z" fill="#cc3221"/>
<path d="M1383.26 728.05L1363.33 717.90A22.37 22.37 0 0 0 1382.13 750.39Z" fill="#3f80b6"/>
<path d="M1383.26 728.05L1382.13 750.39A22.37 22.37 0 1 0 1383.26 705.68Z" fill="#fdae6b"/>
<circle cx="1454.64" cy="728.05" r="17.50" fill="#bfbec1"/>
<circle cx="1454.64" cy="728.05" r="11.13" fill="#cc3221"/>
<circle cx="1454.64" cy="728.05" r="11.63" fill="#cc3221"/>


<circle cx="1526.05" cy="728.05" r="22.90" fill="#bfbec1"/>
<circle cx="1526.05" cy="728.05" r="16.81" fill="#cc3221"/>
<path d="M1526.05 728.05L1526.05 710.74A17.31 17.31 0 1 0 1531.61 744.45Z" fill="#cc3221"/>
<path d="M1526.05 728.05L1531.61 744.45A17.31 17.31 0 0 0 1528.44 710.90Z" fill="#3f80b6"/>
<path d="M1526.05 728.05L1528.44 710.90A17.31 17.31 0 0 0 1526.05 710.74Z" fill="#fdae6b"/>
<circle cx="1597.49" cy="728.05" r="23.80" fill="#bfbec1"/>
<circle cx="1597.49" cy="728.05" r="17.76" fill="#fdae6b"/>
<path d="M1597.49 728.05L1597.49 709.79A18.26 18.26 0 0 0 1579.22 728.05Z" fill="#cc3221"/>
<path d="M1597.49 728.05L1579.22 728.05A18.26 18.26 0 0 0 1607.27 743.47Z" fill="#3f80b6"/>
<path d="M1597.49 728.05L1607.27 743.47A18.26 18.26 0 0 0 1597.49 709.79Z" fill="#fdae6b"/>
<circle cx="1668.94" cy="728.05" r="16.90" fill="#bfbec1"/>
<circle cx="1668.94" cy="728.05" r="10.50" fill="#cc3221"/>
<path d="M1668.94 728.05L1668.94 717.05A11.00 11.00 0 1 0 1679.74 725.99Z" fill="#cc3221"/>
<path d="M1668.94 728.05L1679.74 725.99A11.00 11.00 0 0 0 1668.94 717.05Z" fill="#3f80b6"/>

<circle cx="1740.42" cy="728.05" r="25.90" fill="#bfbec1"/>
<circle cx="1740.42" cy="728.05" r="19.97" fill="#3f80b6"/>
<path d="M1740.42 728.05L1740.42 707.58A20.47 20.47 0 0 0 1723.20 716.97Z" fill="#cc3221"/>
<path d="M1740.42 728.05L1723.20 716.97A20.47 20.47 0 1 0 1760.22 733.27Z" fill="#3f80b6"/>
<path d="M1740.42 728.05L1760.22 733.27A20.47 20.47 0 0 0 1740.42 707.58Z" fill="#fdae6b"/>
<circle cx="1811.92" cy="728.05" r="24.10" fill="#bfbec1"/>
<circle cx="1811.92" cy="728.05" r="18.08" fill="#3f80b6"/>
<path d="M1811.92 728.05L1811.92 709.47A18.58 18.58 0 0 0 1795.16 736.07Z" fill="#cc3221"/>
<path d="M1811.92 728.05L1795.16 736.07A18.58 18.58 0 0 0 1829.59 733.79Z" fill="#3f80b6"/>
<path d="M1811.92 728.05L1829.59 733.79A18.58 18.58 0 0 0 1811.92 709.47Z" fill="#fdae6b"/>
</g>
<g><!-- MYC  ( 13 ) -->
<circle cx="31.30" cy="799.22" r="21.60" fill="#bfbec1"/>
<circle cx="31.30" cy="799.22" r="15.44" fill="#cc3221"/>
<path d="M31.30 799.22L31.30 783.28A15.94 15.94 0 1 0 42.21 787.60Z" fill="#cc3221"/>

<path d="M31.30 799.22L42.21 787.60A15.94 15.94 0 0 0 31.30 783.28Z" fill="#fdae6b"/>
<circle cx="102.24" cy="799.22" r="22.90" fill="#bfbec1"/>
<circle cx="102.24" cy="799.22" r="16.81" fill="#cc3221"/>
<path d="M102.24 799.22L102.24 781.91A17.31 17.31 0 0 0 102.24 816.53Z" fill="#cc3221"/>
<path d="M102.24 799.22L102.24 816.53A17.31 17.31 0 0 0 119.56 799.22Z" fill="#3f80b6"/>
<path d="M102.24 799.22L119.56 799.22A17.31 17.31 0 0 0 102.24 781.91Z" fill="#fdae6b"/>
<circle cx="173.22" cy="799.22" r="22.20" fill="#bfbec1"/>
<circle cx="173.22" cy="799.22" r="16.08" fill="#cc3221"/>
<path d="M173.22 799.22L173.22 782.64A16.58 16.58 0 1 0 185.85 809.95Z" fill="#cc3221"/>
<path d="M173.22 799.22L185.85 809.95A16.58 16.58 0 0 0 188.43 792.64Z" fill="#3f80b6"/>
<path d="M173.22 799.22L188.43 792.64A16.58 16.58 0 0 0 173.22 782.64Z" fill="#fdae6b"/>
<circle cx="244.21" cy="799.22" r="26.30" fill="#bfbec1"/>
<circle cx="244.21" cy="799.22" r="20.39" fill="#cc3221"/>
<path d="M244.21 799.22L244.21 778.33A20.89 20.89 0 1 0 253.70 817.84Z" fill="#cc3221"/>
<path d="M244.21 799.22L253.70 817.84A20.89 20.89 0 0 0 261.27 811.29Z" fill="#3f80b6"/>
<path d="M244.21 799.22L261.27 811.29A20.89 20.89 0 0 0 244.21 778.33Z" fill="#fdae6b"/>
<circle cx="315.23" cy="799.22" r="28.60" fill="#bfbec1"/>
<circle cx="315.23" cy="799.22" r="22.82" fill="#3f80b6"/>
<path d="M315.23 799.22L315.23 775.90A23.32 23.32 0 0 0 303.36 819.29Z" fill="#cc3221"/>
<path d="M315.23 799.22L303.36 819.29A23.32 23.32 0 1 0 315.23 775.90Z" fill="#3f80b6"/>

<circle cx="386.27" cy="799.22" r="19.40" fill="#bfbec1"/>
<circle cx="386.27" cy="799.22" r="13.13" fill="#cc3221"/>
<path d="M386.27 799.22L386.27 785.59A13.63 13.63 0 1 0 398.29 792.81Z" fill="#cc3221"/>
<path d="M386.27 799.22L398.29 792.81A13.63 13.63 0 0 0 386.27 785.59Z" fill="#3f80b6"/>

<circle cx="457.33" cy="799.22" r="21.60" fill="#bfbec1"/>
<circle cx="457.33" cy="799.22" r="15.44" fill="#cc3221"/>
<path d="M457.33 799.22L457.33 783.28A15.94 15.94 0 1 0 460.32 783.56Z" fill="#cc3221"/>

<path d="M457.33 799.22L460.32 783.56A15.94 15.94 0 0 0 457.33 783.28Z" fill="#fdae6b"/>
<circle cx="528.42" cy="799.22" r="18.40" fill="#bfbec1"/>
<circle cx="528.42" cy="799.22" r="12.08" fill="#cc3221"/>
<circle cx="528.42" cy="799.22" r="12.58" fill="#cc3221"/>


<circle cx="599.53" cy="799.22" r="21.60" fill="#bfbec1"/>
<circle cx="599.53" cy="799.22" r="15.44" fill="#cc3221"/>
<path d="M599.53 799.22L599.53 783.28A15.94 15.94 0 1 0 613.40 791.36Z" fill="#cc3221"/>
<path d="M599.53 799.22L613.40 791.36A15.94 15.94 0 0 0 602.81 783.62Z" fill="#3f80b6"/>
<path d="M599.53 799.22L602.81 783.62A15.94 15.94 0 0 0 599.53 783.28Z" fill="#fdae6b"/>
<circle cx="670.66" cy="799.22" r="23.50" fill="#bfbec1"/>
<circle cx="670.66" cy="799.22" r="17.45" fill="#3f80b6"/>
<path d="M670.66 799.22L670.66 781.27A17.95 17.95 0 0 0 652.72 799.22Z" fill="#cc3221"/>
<path d="M670.66 799.22L652.72 799.22A17.95 17.95 0 0 0 688.61 799.22Z" fill="#3f80b6"/>
<path d="M670.66 799.22L688.61 799.22A17.95 17.95 0 0 0 670.66 781.27Z" fill="#fdae6b"/>
<circle cx="741.82" cy="799.22" r="22.70" fill="#bfbec1"/>
<circle cx="741.82" cy="799.22" r="16.60" fill="#cc3221"/>
<path d="M741.82 799.22L741.82 782.12A17.10 17.10 0 1 0 758.92 799.22Z" fill="#cc3221"/>
<path d="M741.82 799.22L758.92 799.22A17.10 17.10 0 0 0 749.58 783.98Z" fill="#3f80b6"/>
<path d="M741.82 799.22L749.58 783.98A17.10 17.10 0 0 0 741.82 782.12Z" fill="#fdae6b"/>
<circle cx="813.00" cy="799.22" r="23.50" fill="#bfbec1"/>
<circle cx="813.00" cy="799.22" r="17.45" fill="#cc3221"/>
<path d="M813.00 799.22L813.00 781.27A17.95 17.95 0 1 0 815.25 781.42Z" fill="#cc3221"/>

<path d="M813.00 799.22L815.25 781.42A17.95 17.95 0 0 0 813.00 781.27Z" fill="#fdae6b"/>
<circle cx="884.20" cy="799.22" r="21.00" fill="#bfbec1"/>
<circle cx="884.20" cy="799.22" r="14.81" fill="#cc3221"/>
<path d="M884.20 799.22L884.20 783.91A15.31 15.31 0 1 0 894.03 787.48Z" fill="#cc3221"/>
<path d="M884.20 799.22L894.03 787.48A15.31 15.31 0 0 0 889.48 784.85Z" fill="#3f80b6"/>
<path d="M884.20 799.22L889.48 784.85A15.31 15.31 0 0 0 884.20 783.91Z" fill="#fdae6b"/>
<circle cx="955.42" cy="799.22" r="26.00" fill="#bfbec1"/>
<circle cx="955.42" cy="799.22" r="20.08" fill="#cc3221"/>
<path d="M955.42 799.22L955.42 778.64A20.58 20.58 0 1 0 974.20 790.81Z" fill="#cc3221"/>
<path d="M955.42 799.22L974.20 790.81A20.58 20.58 0 0 0 970.69 785.42Z" fill="#3f80b6"/>
<path d="M955.42 799.22L970.69 785.42A20.58 20.58 0 0 0 955.42 778.64Z" fill="#fdae6b"/>
<circle cx="1026.67" cy="799.22" r="25.80" fill="#bfbec1"/>
<circle cx="1026.67" cy="799.22" r="19.87" fill="#cc3221"/>
<path d="M1026.67 799.22L1026.67 778.85A20.37 20.37 0 1 0 1042.03 812.59Z" fill="#cc3221"/>
<path d="M1026.67 799.22L1042.03 812.59A20.37 20.37 0 0 0 1045.51 791.48Z" fill="#3f80b6"/>
<path d="M1026.67 799.22L1045.51 791.48A20.37 20.37 0 0 0 1026.67 778.85Z" fill="#fdae6b"/>
<circle cx="1097.94" cy="799.22" r="27.00" fill="#bfbec1"/>
<circle cx="1097.94" cy="799.22" r="21.13" fill="#cc3221"/>
<path d="M1097.94 799.22L1097.94 777.59A21.63 21.63 0 1 0 1113.33 814.42Z" fill="#cc3221"/>
<path d="M1097.94 799.22L1113.33 814.42A21.63 21.63 0 0 0 1119.57 799.22Z" fill="#3f80b6"/>
<path d="M1097.94 799.22L1119.57 799.22A21.63 21.63 0 0 0 1097.94 777.59Z" fill="#fdae6b"/>
<circle cx="1169.24" cy="799.22" r="26.00" fill="#bfbec1"/>
<circle cx="1169.24" cy="799.22" r="20.08" fill="#cc3221"/>
<path d="M1169.24 799.22L1169.24 778.64A20.58 20.58 0 1 0 1180.26 816.59Z" fill="#cc3221"/>
<path d="M1169.24 799.22L1180.26 816.59A20.58 20.58 0 0 0 1187.14 809.36Z" fill="#3f80b6"/>
<path d="M1169.24 799.22L1187.14 809.36A20.58 20.58 0 0 0 1169.24 778.64Z" fill="#fdae6b"/>
<circle cx="1240.55" cy="799.22" r="20.30" fill="#bfbec1"/>
<circle cx="1240.55" cy="799.22" r="14.08" fill="#cc3221"/>
<path d="M1240.55 799.22L1240.55 784.64A14.58 14.58 0 1 0 1245.06 785.36Z" fill="#cc3221"/>
<path d="M1240.55 799.22L1245.06 785.36A14.58 14.58 0 0 0 1242.38 784.76Z" fill="#3f80b6"/>
<path d="M1240.55 799.22L1242.38 784.76A14.58 14.58 0 0 0 1240.55 784.64Z" fill="#fdae6b"/>
<circle cx="1311.89" cy="799.22" r="24.80" fill="#bfbec1"/>
<circle cx="1311.89" cy="799.22" r="18.81" fill="#cc3221"/>
<path d="M1311.89 799.22L1311.89 779.91A19.31 19.31 0 1 0 1326.70 811.62Z" fill="#cc3221"/>
<path d="M1311.89 799.22L1326.70 811.62A19.31 19.31 0 0 0 1330.51 794.06Z" fill="#3f80b6"/>
<path d="M1311.89 799.22L1330.51 794.06A19.31 19.31 0 0 0 1311.89 779.91Z" fill="#fdae6b"/>
<circle cx="1383.26" cy="799.22" r="27.30" fill="#bfbec1"/>
<circle cx="1383.26" cy="799.22" r="21.45" fill="#cc3221"/>
<path d="M1383.26 799.22L1383.26 777.27A21.95 21.95 0 1 0 1404.89 795.51Z" fill="#cc3221"/>
<path d="M1383.26 799.22L1404.89 795.51A21.95 21.95 0 0 0 1403.71 791.27Z" fill="#3f80b6"/>
<path d="M1383.26 799.22L1403.71 791.27A21.95 21.95 0 0 0 1383.26 777.27Z" fill="#fdae6b"/>
<circle cx="1454.64" cy="799.22" r="17.50" fill="#bfbec1"/>
<circle cx="1454.64" cy="799.22" r="11.13" fill="#cc3221"/>
<circle cx="1454.64" cy="799.22" r="11.63" fill="#cc3221"/>


<circle cx="1526.05" cy="799.22" r="23.50" fill="#bfbec1"/>
<circle cx="1526.05" cy="799.22" r="17.45" fill="#cc3221"/>
<path d="M1526.05 799.22L1526.05 781.27A17.95 17.95 0 0 0 1524.81 817.12Z" fill="#cc3221"/>
<path d="M1526.05 799.22L1524.81 817.12A17.95 17.95 0 0 0 1536.42 784.57Z" fill="#3f80b6"/>
<path d="M1526.05 799.22L1536.42 784.57A17.95 17.95 0 0 0 1526.05 781.27Z" fill="#fdae6b"/>
<circle cx="1597.49" cy="799.22" r="23.80" fill="#bfbec1"/>
<circle cx="1597.49" cy="799.22" r="17.76" fill="#cc3221"/>
<path d="M1597.49 799.22L1597.49 780.96A18.26 18.26 0 1 0 1606.48 815.11Z" fill="#cc3221"/>
<path d="M1597.49 799.22L1606.48 815.11A18.26 18.26 0 0 0 1615.75 799.22Z" fill="#3f80b6"/>
<path d="M1597.49 799.22L1615.75 799.22A18.26 18.26 0 0 0 1597.49 780.96Z" fill="#fdae6b"/>
<circle cx="1668.94" cy="799.22" r="20.10" fill="#bfbec1"/>
<circle cx="1668.94" cy="799.22" r="13.87" fill="#cc3221"/>
<circle cx="1668.94" cy="799.22" r="14.37" fill="#cc3221"/>


<circle cx="1740.42" cy="799.22" r="23.80" fill="#bfbec1"/>
<circle cx="1740.42" cy="799.22" r="17.76" fill="#cc3221"/>
<path d="M1740.42 799.22L1740.42 780.96A18.26 18.26 0 1 0 1743.50 817.22Z" fill="#cc3221"/>
<path d="M1740.42 799.22L1743.50 817.22A18.26 18.26 0 0 0 1750.59 814.39Z" fill="#3f80b6"/>
<path d="M1740.42 799.22L1750.59 814.39A18.26 18.26 0 0 0 1740.42 780.96Z" fill="#fdae6b"/>
<circle cx="1811.92" cy="799.22" r="24.10" fill="#bfbec1"/>
<circle cx="1811.92" cy="799.22" r="18.08" fill="#cc3221"/>
<path d="M1811.92 799.22L1811.92 780.64A18.58 18.58 0 1 0 1829.73 804.51Z" fill="#cc3221"/>
<path d="M1811.92 799.22L1829.73 804.51A18.58 18.58 0 0 0 1829.28 792.60Z" fill="#3f80b6"/>
<path d="M1811.92 799.22L1829.28 792.60A18.58 18.58 0 0 0 1811.92 780.64Z" fill="#fdae6b"/>
</g>
<g><!-- TGF−Beta  ( 7 ) -->
<circle cx="31.30" cy="870.39" r="22.00" fill="#bfbec1"/>
<circle cx="31.30" cy="870.39" r="15.87" fill="#cc3221"/>
<path d="M31.30 870.39L31.30 854.02A16.37 16.37 0 1 0 40.06 856.57Z" fill="#cc3221"/>
<path d="M31.30 870.39L40.06 856.57A16.37 16.37 0 0 0 31.30 854.02Z" fill="#3f80b6"/>

<circle cx="102.24" cy="870.39" r="22.90" fill="#bfbec1"/>
<circle cx="102.24" cy="870.39" r="16.81" fill="#cc3221"/>
<path d="M102.24 870.39L102.24 853.08A17.31 17.31 0 1 0 117.42 878.73Z" fill="#cc3221"/>
<path d="M102.24 870.39L117.42 878.73A17.31 17.31 0 0 0 102.24 853.08Z" fill="#3f80b6"/>

<circle cx="173.22" cy="870.39" r="21.00" fill="#bfbec1"/>
<circle cx="173.22" cy="870.39" r="14.81" fill="#cc3221"/>
<path d="M173.22 870.39L173.22 855.08A15.31 15.31 0 1 0 186.49 862.76Z" fill="#cc3221"/>
<path d="M173.22 870.39L186.49 862.76A15.31 15.31 0 0 0 183.70 859.23Z" fill="#3f80b6"/>
<path d="M173.22 870.39L183.70 859.23A15.31 15.31 0 0 0 173.22 855.08Z" fill="#fdae6b"/>
<circle cx="244.21" cy="870.39" r="27.00" fill="#bfbec1"/>
<circle cx="244.21" cy="870.39" r="21.13" fill="#cc3221"/>
<path d="M244.21 870.39L244.21 848.76A21.63 21.63 0 1 0 255.80 852.13Z" fill="#cc3221"/>
<path d="M244.21 870.39L255.80 852.13A21.63 21.63 0 0 0 252.42 850.38Z" fill="#3f80b6"/>
<path d="M244.21 870.39L252.42 850.38A21.63 21.63 0 0 0 244.21 848.76Z" fill="#fdae6b"/>
<circle cx="315.23" cy="870.39" r="25.40" fill="#bfbec1"/>
<circle cx="315.23" cy="870.39" r="19.45" fill="#cc3221"/>
<circle cx="315.23" cy="870.39" r="19.95" fill="#cc3221"/>


<circle cx="386.27" cy="870.39" r="21.20" fill="#bfbec1"/>
<circle cx="386.27" cy="870.39" r="15.02" fill="#cc3221"/>
<path d="M386.27 870.39L386.27 854.87A15.52 15.52 0 1 0 401.79 870.39Z" fill="#cc3221"/>
<path d="M386.27 870.39L401.79 870.39A15.52 15.52 0 0 0 386.27 854.87Z" fill="#3f80b6"/>

<circle cx="457.33" cy="870.39" r="19.00" fill="#bfbec1"/>
<circle cx="457.33" cy="870.39" r="12.71" fill="#cc3221"/>
<circle cx="457.33" cy="870.39" r="13.21" fill="#cc3221"/>


<circle cx="528.42" cy="870.39" r="18.40" fill="#bfbec1"/>
<circle cx="528.42" cy="870.39" r="12.08" fill="#cc3221"/>
<circle cx="528.42" cy="870.39" r="12.58" fill="#cc3221"/>


<circle cx="599.53" cy="870.39" r="23.30" fill="#bfbec1"/>
<circle cx="599.53" cy="870.39" r="17.23" fill="#3f80b6"/>
<path d="M599.53 870.39L599.53 852.66A17.73 17.73 0 0 0 582.32 874.69Z" fill="#cc3221"/>
<path d="M599.53 870.39L582.32 874.69A17.73 17.73 0 0 0 616.99 873.49Z" fill="#3f80b6"/>
<path d="M599.53 870.39L616.99 873.49A17.73 17.73 0 0 0 599.53 852.66Z" fill="#fdae6b"/>
<circle cx="670.66" cy="870.39" r="23.50" fill="#bfbec1"/>
<circle cx="670.66" cy="870.39" r="17.45" fill="#fdae6b"/>
<path d="M670.66 870.39L670.66 852.44A17.95 17.95 0 0 0 652.72 870.39Z" fill="#cc3221"/>
<path d="M670.66 870.39L652.72 870.39A17.95 17.95 0 0 0 670.66 888.34Z" fill="#3f80b6"/>
<path d="M670.66 870.39L670.66 888.34A17.95 17.95 0 0 0 670.66 852.44Z" fill="#fdae6b"/>
<circle cx="741.82" cy="870.39" r="19.70" fill="#bfbec1"/>
<circle cx="741.82" cy="870.39" r="13.44" fill="#cc3221"/>
<path d="M741.82 870.39L741.82 856.45A13.94 13.94 0 1 0 755.65 872.14Z" fill="#cc3221"/>
<path d="M741.82 870.39L755.65 872.14A13.94 13.94 0 0 0 745.29 856.88Z" fill="#3f80b6"/>
<path d="M741.82 870.39L745.29 856.88A13.94 13.94 0 0 0 741.82 856.45Z" fill="#fdae6b"/>
<circle cx="813.00" cy="870.39" r="21.60" fill="#bfbec1"/>
<circle cx="813.00" cy="870.39" r="15.44" fill="#cc3221"/>
<path d="M813.00 870.39L813.00 854.45A15.94 15.94 0 1 0 814.99 854.57Z" fill="#cc3221"/>

<path d="M813.00 870.39L814.99 854.57A15.94 15.94 0 0 0 813.00 854.45Z" fill="#fdae6b"/>
<circle cx="884.20" cy="870.39" r="21.00" fill="#bfbec1"/>
<circle cx="884.20" cy="870.39" r="14.81" fill="#cc3221"/>
<path d="M884.20 870.39L884.20 855.08A15.31 15.31 0 1 0 885.16 855.11Z" fill="#cc3221"/>
<path d="M884.20 870.39L885.16 855.11A15.31 15.31 0 0 0 884.20 855.08Z" fill="#3f80b6"/>

<circle cx="955.42" cy="870.39" r="22.60" fill="#bfbec1"/>
<circle cx="955.42" cy="870.39" r="16.50" fill="#cc3221"/>
<path d="M955.42 870.39L955.42 853.39A17.00 17.00 0 1 0 967.44 858.37Z" fill="#cc3221"/>
<path d="M955.42 870.39L967.44 858.37A17.00 17.00 0 0 0 958.92 853.76Z" fill="#3f80b6"/>
<path d="M955.42 870.39L958.92 853.76A17.00 17.00 0 0 0 955.42 853.39Z" fill="#fdae6b"/>
<circle cx="1026.67" cy="870.39" r="21.30" fill="#bfbec1"/>
<circle cx="1026.67" cy="870.39" r="15.13" fill="#cc3221"/>
<path d="M1026.67 870.39L1026.67 854.76A15.63 15.63 0 1 0 1035.37 857.41Z" fill="#cc3221"/>

<path d="M1026.67 870.39L1035.37 857.41A15.63 15.63 0 0 0 1026.67 854.76Z" fill="#fdae6b"/>
<circle cx="1097.94" cy="870.39" r="25.40" fill="#bfbec1"/>
<circle cx="1097.94" cy="870.39" r="19.45" fill="#cc3221"/>
<path d="M1097.94 870.39L1097.94 850.44A19.95 19.95 0 1 0 1105.40 851.89Z" fill="#cc3221"/>
<path d="M1097.94 870.39L1105.40 851.89A19.95 19.95 0 0 0 1099.69 850.52Z" fill="#3f80b6"/>
<path d="M1097.94 870.39L1099.69 850.52A19.95 19.95 0 0 0 1097.94 850.44Z" fill="#fdae6b"/>
<circle cx="1169.24" cy="870.39" r="21.60" fill="#bfbec1"/>
<circle cx="1169.24" cy="870.39" r="15.44" fill="#cc3221"/>
<path d="M1169.24 870.39L1169.24 854.45A15.94 15.94 0 1 0 1174.16 855.23Z" fill="#cc3221"/>
<path d="M1169.24 870.39L1174.16 855.23A15.94 15.94 0 0 0 1171.43 854.60Z" fill="#3f80b6"/>
<path d="M1169.24 870.39L1171.43 854.60A15.94 15.94 0 0 0 1169.24 854.45Z" fill="#fdae6b"/>
<circle cx="1240.55" cy="870.39" r="20.00" fill="#bfbec1"/>
<circle cx="1240.55" cy="870.39" r="13.76" fill="#cc3221"/>
<circle cx="1240.55" cy="870.39" r="14.26" fill="#cc3221"/>


<circle cx="1311.89" cy="870.39" r="24.10" fill="#bfbec1"/>
<circle cx="1311.89" cy="870.39" r="18.08" fill="#cc3221"/>
<path d="M1311.89 870.39L1311.89 851.81A18.58 18.58 0 1 0 1316.74 852.46Z" fill="#cc3221"/>
<path d="M1311.89 870.39L1316.74 852.46A18.58 18.58 0 0 0 1315.15 852.10Z" fill="#3f80b6"/>
<path d="M1311.89 870.39L1315.15 852.10A18.58 18.58 0 0 0 1311.89 851.81Z" fill="#fdae6b"/>
<circle cx="1383.26" cy="870.39" r="28.00" fill="#bfbec1"/>
<circle cx="1383.26" cy="870.39" r="22.18" fill="#fdae6b"/>
<path d="M1383.26 870.39L1383.26 847.71A22.68 22.68 0 0 0 1371.83 889.99Z" fill="#cc3221"/>
<path d="M1383.26 870.39L1371.83 889.99A22.68 22.68 0 0 0 1390.13 892.01Z" fill="#3f80b6"/>
<path d="M1383.26 870.39L1390.13 892.01A22.68 22.68 0 0 0 1383.26 847.71Z" fill="#fdae6b"/>
<circle cx="1454.64" cy="870.39" r="17.80" fill="#bfbec1"/>
<circle cx="1454.64" cy="870.39" r="11.44" fill="#cc3221"/>
<path d="M1454.64 870.39L1454.64 858.45A11.94 11.94 0 1 0 1465.66 865.78Z" fill="#cc3221"/>
<path d="M1454.64 870.39L1465.66 865.78A11.94 11.94 0 0 0 1454.64 858.45Z" fill="#3f80b6"/>

<circle cx="1526.05" cy="870.39" r="19.70" fill="#bfbec1"/>
<circle cx="1526.05" cy="870.39" r="13.44" fill="#cc3221"/>
<path d="M1526.05 870.39L1526.05 856.45A13.94 13.94 0 1 0 1540.00 870.39Z" fill="#cc3221"/>
<path d="M1526.05 870.39L1540.00 870.39A13.94 13.94 0 0 0 1529.69 856.93Z" fill="#3f80b6"/>
<path d="M1526.05 870.39L1529.69 856.93A13.94 13.94 0 0 0 1526.05 856.45Z" fill="#fdae6b"/>
<circle cx="1597.49" cy="870.39" r="25.70" fill="#bfbec1"/>
<circle cx="1597.49" cy="870.39" r="19.76" fill="#cc3221"/>
<path d="M1597.49 870.39L1597.49 850.13A20.26 20.26 0 1 0 1606.34 888.61Z" fill="#cc3221"/>
<path d="M1597.49 870.39L1606.34 888.61A20.26 20.26 0 0 0 1616.46 863.29Z" fill="#3f80b6"/>
<path d="M1597.49 870.39L1616.46 863.29A20.26 20.26 0 0 0 1597.49 850.13Z" fill="#fdae6b"/>
<circle cx="1668.94" cy="870.39" r="19.70" fill="#bfbec1"/>
<circle cx="1668.94" cy="870.39" r="13.44" fill="#cc3221"/>
<circle cx="1668.94" cy="870.39" r="13.94" fill="#cc3221"/>


<circle cx="1740.42" cy="870.39" r="22.40" fill="#bfbec1"/>
<circle cx="1740.42" cy="870.39" r="16.29" fill="#cc3221"/>
<path d="M1740.42 870.39L1740.42 853.60A16.79 16.79 0 1 0 1748.32 855.58Z" fill="#cc3221"/>
<path d="M1740.42 870.39L1748.32 855.58A16.79 16.79 0 0 0 1741.58 853.64Z" fill="#3f80b6"/>
<path d="M1740.42 870.39L1741.58 853.64A16.79 16.79 0 0 0 1740.42 853.60Z" fill="#fdae6b"/>
<circle cx="1811.92" cy="870.39" r="22.50" fill="#bfbec1"/>
<circle cx="1811.92" cy="870.39" r="16.39" fill="#cc3221"/>
<path d="M1811.92 870.39L1811.92 853.50A16.89 16.89 0 1 0 1826.83 862.44Z" fill="#cc3221"/>
<path d="M1811.92 870.39L1826.83 862.44A16.89 16.89 0 0 0 1821.59 856.54Z" fill="#3f80b6"/>
<path d="M1811.92 870.39L1821.59 856.54A16.89 16.89 0 0 0 1811.92 853.50Z" fill="#fdae6b"/>
</g>
<g><!-- WNT  ( 11 ) -->
<circle cx="31.30" cy="941.56" r="18.20" fill="#bfbec1"/>
<circle cx="31.30" cy="941.56" r="11.86" fill="#cc3221"/>
<path d="M31.30 941.56L31.30 929.20A12.36 12.36 0 0 0 31.30 953.92Z" fill="#cc3221"/>
<path d="M31.30 941.56L31.30 953.92A12.36 12.36 0 0 0 43.66 941.56Z" fill="#3f80b6"/>
<path d="M31.30 941.56L43.66 941.56A12.36 12.36 0 0 0 31.30 929.20Z" fill="#fdae6b"/>
<circle cx="102.24" cy="941.56" r="20.30" fill="#bfbec1"/>
<circle cx="102.24" cy="941.56" r="14.08" fill="#cc3221"/>
<path d="M102.24 941.56L102.24 926.98A14.58 14.58 0 0 0 102.24 956.14Z" fill="#cc3221"/>
<path d="M102.24 941.56L102.24 956.14A14.58 14.58 0 0 0 102.24 926.98Z" fill="#3f80b6"/>

<circle cx="173.22" cy="941.56" r="21.20" fill="#bfbec1"/>
<circle cx="173.22" cy="941.56" r="15.02" fill="#cc3221"/>
<path d="M173.22 941.56L173.22 926.04A15.52 15.52 0 1 0 188.74 941.56Z" fill="#cc3221"/>
<path d="M173.22 941.56L188.74 941.56A15.52 15.52 0 0 0 182.73 929.29Z" fill="#3f80b6"/>
<path d="M173.22 941.56L182.73 929.29A15.52 15.52 0 0 0 173.22 926.04Z" fill="#fdae6b"/>
<circle cx="244.21" cy="941.56" r="26.30" fill="#bfbec1"/>
<circle cx="244.21" cy="941.56" r="20.39" fill="#cc3221"/>
<path d="M244.21 941.56L244.21 920.67A20.89 20.89 0 1 0 248.25 962.06Z" fill="#cc3221"/>
<path d="M244.21 941.56L248.25 962.06A20.89 20.89 0 0 0 264.63 945.99Z" fill="#3f80b6"/>
<path d="M244.21 941.56L264.63 945.99A20.89 20.89 0 0 0 244.21 920.67Z" fill="#fdae6b"/>
<circle cx="315.23" cy="941.56" r="25.40" fill="#bfbec1"/>
<circle cx="315.23" cy="941.56" r="19.45" fill="#cc3221"/>
<path d="M315.23 941.56L315.23 921.61A19.95 19.95 0 0 0 315.23 961.51Z" fill="#cc3221"/>
<path d="M315.23 941.56L315.23 961.51A19.95 19.95 0 0 0 315.23 921.61Z" fill="#3f80b6"/>

<circle cx="386.27" cy="941.56" r="19.00" fill="#bfbec1"/>
<circle cx="386.27" cy="941.56" r="12.71" fill="#cc3221"/>
<path d="M386.27 941.56L386.27 928.35A13.21 13.21 0 1 0 394.69 951.74Z" fill="#cc3221"/>
<path d="M386.27 941.56L394.69 951.74A13.21 13.21 0 0 0 386.27 928.35Z" fill="#3f80b6"/>

<circle cx="457.33" cy="941.56" r="21.20" fill="#bfbec1"/>
<circle cx="457.33" cy="941.56" r="15.02" fill="#cc3221"/>
<path d="M457.33 941.56L457.33 926.04A15.52 15.52 0 1 0 472.86 941.56Z" fill="#cc3221"/>
<path d="M457.33 941.56L472.86 941.56A15.52 15.52 0 0 0 457.33 926.04Z" fill="#3f80b6"/>

<circle cx="528.42" cy="941.56" r="15.20" fill="#bfbec1"/>
<circle cx="528.42" cy="941.56" r="8.71" fill="#cc3221"/>
<circle cx="528.42" cy="941.56" r="9.21" fill="#cc3221"/>


<circle cx="599.53" cy="941.56" r="22.60" fill="#bfbec1"/>
<circle cx="599.53" cy="941.56" r="16.50" fill="#cc3221"/>
<path d="M599.53 941.56L599.53 924.56A17.00 17.00 0 0 0 585.65 951.38Z" fill="#cc3221"/>
<path d="M599.53 941.56L585.65 951.38A17.00 17.00 0 0 0 615.48 947.42Z" fill="#3f80b6"/>
<path d="M599.53 941.56L615.48 947.42A17.00 17.00 0 0 0 599.53 924.56Z" fill="#fdae6b"/>
<circle cx="670.66" cy="941.56" r="16.40" fill="#bfbec1"/>
<circle cx="670.66" cy="941.56" r="9.97" fill="#cc3221"/>
<circle cx="670.66" cy="941.56" r="10.47" fill="#cc3221"/>


<circle cx="741.82" cy="941.56" r="22.50" fill="#bfbec1"/>
<circle cx="741.82" cy="941.56" r="16.39" fill="#cc3221"/>
<path d="M741.82 941.56L741.82 924.67A16.89 16.89 0 1 0 758.43 944.62Z" fill="#cc3221"/>
<path d="M741.82 941.56L758.43 944.62A16.89 16.89 0 0 0 744.77 924.93Z" fill="#3f80b6"/>
<path d="M741.82 941.56L744.77 924.93A16.89 16.89 0 0 0 741.82 924.67Z" fill="#fdae6b"/>
<circle cx="813.00" cy="941.56" r="20.30" fill="#bfbec1"/>
<circle cx="813.00" cy="941.56" r="14.08" fill="#cc3221"/>
<path d="M813.00 941.56L813.00 926.98A14.58 14.58 0 1 0 816.62 927.44Z" fill="#cc3221"/>
<path d="M813.00 941.56L816.62 927.44A14.58 14.58 0 0 0 813.91 927.01Z" fill="#3f80b6"/>
<path d="M813.00 941.56L813.91 927.01A14.58 14.58 0 0 0 813.00 926.98Z" fill="#fdae6b"/>
<circle cx="884.20" cy="941.56" r="17.90" fill="#bfbec1"/>
<circle cx="884.20" cy="941.56" r="11.55" fill="#cc3221"/>
<path d="M884.20 941.56L884.20 929.51A12.05 12.05 0 1 0 888.63 930.36Z" fill="#cc3221"/>
<path d="M884.20 941.56L888.63 930.36A12.05 12.05 0 0 0 884.58 929.52Z" fill="#3f80b6"/>
<path d="M884.20 941.56L884.58 929.52A12.05 12.05 0 0 0 884.20 929.51Z" fill="#fdae6b"/>
<circle cx="955.42" cy="941.56" r="23.90" fill="#bfbec1"/>
<circle cx="955.42" cy="941.56" r="17.87" fill="#cc3221"/>
<path d="M955.42 941.56L955.42 923.19A18.37 18.37 0 1 0 973.51 944.77Z" fill="#cc3221"/>
<path d="M955.42 941.56L973.51 944.77A18.37 18.37 0 0 0 964.07 925.36Z" fill="#3f80b6"/>
<path d="M955.42 941.56L964.07 925.36A18.37 18.37 0 0 0 955.42 923.19Z" fill="#fdae6b"/>
<circle cx="1026.67" cy="941.56" r="23.10" fill="#bfbec1"/>
<circle cx="1026.67" cy="941.56" r="17.02" fill="#cc3221"/>
<path d="M1026.67 941.56L1026.67 924.04A17.52 17.52 0 1 0 1041.70 950.58Z" fill="#cc3221"/>
<path d="M1026.67 941.56L1041.70 950.58A17.52 17.52 0 0 0 1039.96 930.14Z" fill="#3f80b6"/>
<path d="M1026.67 941.56L1039.96 930.14A17.52 17.52 0 0 0 1026.67 924.04Z" fill="#fdae6b"/>
<circle cx="1097.94" cy="941.56" r="25.40" fill="#bfbec1"/>
<circle cx="1097.94" cy="941.56" r="19.45" fill="#cc3221"/>
<path d="M1097.94 941.56L1097.94 921.61A19.95 19.95 0 1 0 1116.71 948.32Z" fill="#cc3221"/>
<path d="M1097.94 941.56L1116.71 948.32A19.95 19.95 0 0 0 1115.30 931.73Z" fill="#3f80b6"/>
<path d="M1097.94 941.56L1115.30 931.73A19.95 19.95 0 0 0 1097.94 921.61Z" fill="#fdae6b"/>
<circle cx="1169.24" cy="941.56" r="20.30" fill="#bfbec1"/>
<circle cx="1169.24" cy="941.56" r="14.08" fill="#cc3221"/>
<path d="M1169.24 941.56L1169.24 926.98A14.58 14.58 0 1 0 1179.01 930.75Z" fill="#cc3221"/>
<path d="M1169.24 941.56L1179.01 930.75A14.58 14.58 0 0 0 1174.26 927.88Z" fill="#3f80b6"/>
<path d="M1169.24 941.56L1174.26 927.88A14.58 14.58 0 0 0 1169.24 926.98Z" fill="#fdae6b"/>
<circle cx="1240.55" cy="941.56" r="21.60" fill="#bfbec1"/>
<circle cx="1240.55" cy="941.56" r="15.44" fill="#cc3221"/>
<circle cx="1240.55" cy="941.56" r="15.94" fill="#cc3221"/>


<circle cx="1311.89" cy="941.56" r="25.30" fill="#bfbec1"/>
<circle cx="1311.89" cy="941.56" r="19.34" fill="#cc3221"/>
<path d="M1311.89 941.56L1311.89 921.72A19.84 19.84 0 1 0 1329.68 950.34Z" fill="#cc3221"/>
<path d="M1311.89 941.56L1329.68 950.34A19.84 19.84 0 0 0 1318.73 922.93Z" fill="#3f80b6"/>
<path d="M1311.89 941.56L1318.73 922.93A19.84 19.84 0 0 0 1311.89 921.72Z" fill="#fdae6b"/>
<circle cx="1383.26" cy="941.56" r="23.90" fill="#bfbec1"/>
<circle cx="1383.26" cy="941.56" r="17.87" fill="#cc3221"/>
<path d="M1383.26 941.56L1383.26 923.19A18.37 18.37 0 1 0 1393.77 926.50Z" fill="#cc3221"/>
<path d="M1383.26 941.56L1393.77 926.50A18.37 18.37 0 0 0 1386.47 923.48Z" fill="#3f80b6"/>
<path d="M1383.26 941.56L1386.47 923.48A18.37 18.37 0 0 0 1383.26 923.19Z" fill="#fdae6b"/>
<circle cx="1454.64" cy="941.56" r="17.80" fill="#bfbec1"/>
<circle cx="1454.64" cy="941.56" r="11.44" fill="#cc3221"/>
<path d="M1454.64 941.56L1454.64 929.62A11.94 11.94 0 1 0 1466.59 941.56Z" fill="#cc3221"/>
<path d="M1454.64 941.56L1466.59 941.56A11.94 11.94 0 0 0 1455.39 929.64Z" fill="#3f80b6"/>
<path d="M1454.64 941.56L1455.39 929.64A11.94 11.94 0 0 0 1454.64 929.62Z" fill="#fdae6b"/>
<circle cx="1526.05" cy="941.56" r="22.00" fill="#bfbec1"/>
<circle cx="1526.05" cy="941.56" r="15.87" fill="#cc3221"/>
<path d="M1526.05 941.56L1526.05 925.19A16.37 16.37 0 1 0 1541.96 945.43Z" fill="#cc3221"/>
<path d="M1526.05 941.56L1541.96 945.43A16.37 16.37 0 0 0 1530.32 925.76Z" fill="#3f80b6"/>
<path d="M1526.05 941.56L1530.32 925.76A16.37 16.37 0 0 0 1526.05 925.19Z" fill="#fdae6b"/>
<circle cx="1597.49" cy="941.56" r="24.40" fill="#bfbec1"/>
<circle cx="1597.49" cy="941.56" r="18.39" fill="#cc3221"/>
<path d="M1597.49 941.56L1597.49 922.67A18.89 18.89 0 1 0 1603.66 959.42Z" fill="#cc3221"/>
<path d="M1597.49 941.56L1603.66 959.42A18.89 18.89 0 0 0 1614.27 950.24Z" fill="#3f80b6"/>
<path d="M1597.49 941.56L1614.27 950.24A18.89 18.89 0 0 0 1597.49 922.67Z" fill="#fdae6b"/>
<circle cx="1668.94" cy="941.56" r="19.00" fill="#bfbec1"/>
<circle cx="1668.94" cy="941.56" r="12.71" fill="#cc3221"/>
<path d="M1668.94 941.56L1668.94 928.35A13.21 13.21 0 1 0 1671.66 928.64Z" fill="#cc3221"/>

<path d="M1668.94 941.56L1671.66 928.64A13.21 13.21 0 0 0 1668.94 928.35Z" fill="#fdae6b"/>
<circle cx="1740.42" cy="941.56" r="23.50" fill="#bfbec1"/>
<circle cx="1740.42" cy="941.56" r="17.45" fill="#cc3221"/>
<path d="M1740.42 941.56L1740.42 923.61A17.95 17.95 0 1 0 1743.56 959.23Z" fill="#cc3221"/>
<path d="M1740.42 941.56L1743.56 959.23A17.95 17.95 0 0 0 1745.10 924.24Z" fill="#3f80b6"/>
<path d="M1740.42 941.56L1745.10 924.24A17.95 17.95 0 0 0 1740.42 923.61Z" fill="#fdae6b"/>
<circle cx="1811.92" cy="941.56" r="22.50" fill="#bfbec1"/>
<circle cx="1811.92" cy="941.56" r="16.39" fill="#cc3221"/>
<path d="M1811.92 941.56L1811.92 924.67A16.89 16.89 0 1 0 1828.52 944.73Z" fill="#cc3221"/>
<path d="M1811.92 941.56L1828.52 944.73A16.89 16.89 0 0 0 1820.97 927.30Z" fill="#3f80b6"/>
<path d="M1811.92 941.56L1820.97 927.30A16.89 16.89 0 0 0 1811.92 924.67Z" fill="#fdae6b"/>
</g>
<g><!-- NRF2  ( 3 ) -->
<circle cx="31.30" cy="1012.73" r="18.90" fill="#bfbec1"/>
<circle cx="31.30" cy="1012.73" r="12.60" fill="#cc3221"/>
<path d="M31.30 1012.73L31.30 999.63A13.10 13.10 0 1 0 43.62 1008.29Z" fill="#cc3221"/>
<path d="M31.30 1012.73L43.62 1008.29A13.10 13.10 0 0 0 31.30 999.63Z" fill="#3f80b6"/>

<circle cx="102.24" cy="1012.73" r="17.50" fill="#bfbec1"/>
<circle cx="102.24" cy="1012.73" r="11.13" fill="#cc3221"/>
<path d="M102.24 1012.73L102.24 1001.10A11.63 11.63 0 1 0 109.71 1021.64Z" fill="#cc3221"/>
<path d="M102.24 1012.73L109.71 1021.64A11.63 11.63 0 0 0 102.24 1001.10Z" fill="#3f80b6"/>

<circle cx="173.22" cy="1012.73" r="18.40" fill="#bfbec1"/>
<circle cx="173.22" cy="1012.73" r="12.08" fill="#cc3221"/>
<path d="M173.22 1012.73L173.22 1000.15A12.58 12.58 0 1 0 180.41 1002.42Z" fill="#cc3221"/>
<path d="M173.22 1012.73L180.41 1002.42A12.58 12.58 0 0 0 174.32 1000.20Z" fill="#3f80b6"/>
<path d="M173.22 1012.73L174.32 1000.20A12.58 12.58 0 0 0 173.22 1000.15Z" fill="#fdae6b"/>
<circle cx="244.21" cy="1012.73" r="18.70" fill="#bfbec1"/>
<circle cx="244.21" cy="1012.73" r="12.39" fill="#cc3221"/>
<path d="M244.21 1012.73L244.21 999.84A12.89 12.89 0 1 0 254.09 1004.45Z" fill="#cc3221"/>
<path d="M244.21 1012.73L254.09 1004.45A12.89 12.89 0 0 0 248.65 1000.63Z" fill="#3f80b6"/>
<path d="M244.21 1012.73L248.65 1000.63A12.89 12.89 0 0 0 244.21 999.84Z" fill="#fdae6b"/>
<circle cx="315.23" cy="1012.73" r="19.70" fill="#bfbec1"/>
<circle cx="315.23" cy="1012.73" r="13.44" fill="#cc3221"/>
<path d="M315.23 1012.73L315.23 998.79A13.94 13.94 0 0 0 315.23 1026.67Z" fill="#cc3221"/>
<path d="M315.23 1012.73L315.23 1026.67A13.94 13.94 0 0 0 315.23 998.79Z" fill="#3f80b6"/>

<circle cx="386.27" cy="1012.73" r="19.00" fill="#bfbec1"/>
<circle cx="386.27" cy="1012.73" r="12.71" fill="#cc3221"/>
<path d="M386.27 1012.73L386.27 999.52A13.21 13.21 0 1 0 398.83 1008.65Z" fill="#cc3221"/>
<path d="M386.27 1012.73L398.83 1008.65A13.21 13.21 0 0 0 386.27 999.52Z" fill="#3f80b6"/>

<circle cx="457.33" cy="1012.73" r="16.10" fill="#bfbec1"/>
<circle cx="457.33" cy="1012.73" r="9.65" fill="#cc3221"/>
<path d="M457.33 1012.73L457.33 1002.58A10.15 10.15 0 1 0 467.49 1012.73Z" fill="#cc3221"/>
<path d="M457.33 1012.73L467.49 1012.73A10.15 10.15 0 0 0 457.33 1002.58Z" fill="#3f80b6"/>

<circle cx="528.42" cy="1012.73" r="18.70" fill="#bfbec1"/>
<circle cx="528.42" cy="1012.73" r="12.39" fill="#cc3221"/>
<circle cx="528.42" cy="1012.73" r="12.89" fill="#cc3221"/>


<circle cx="599.53" cy="1012.73" r="18.70" fill="#bfbec1"/>
<circle cx="599.53" cy="1012.73" r="12.39" fill="#cc3221"/>
<path d="M599.53 1012.73L599.53 999.84A12.89 12.89 0 1 0 610.46 1019.57Z" fill="#cc3221"/>
<path d="M599.53 1012.73L610.46 1019.57A12.89 12.89 0 0 0 600.26 999.86Z" fill="#3f80b6"/>
<path d="M599.53 1012.73L600.26 999.86A12.89 12.89 0 0 0 599.53 999.84Z" fill="#fdae6b"/>
<circle cx="670.66" cy="1012.73" r="21.60" fill="#bfbec1"/>
<circle cx="670.66" cy="1012.73" r="15.44" fill="#cc3221"/>
<circle cx="670.66" cy="1012.73" r="15.94" fill="#cc3221"/>


<circle cx="741.82" cy="1012.73" r="18.20" fill="#bfbec1"/>
<circle cx="741.82" cy="1012.73" r="11.86" fill="#cc3221"/>
<path d="M741.82 1012.73L741.82 1000.37A12.36 12.36 0 1 0 750.72 1021.31Z" fill="#cc3221"/>
<path d="M741.82 1012.73L750.72 1021.31A12.36 12.36 0 0 0 746.01 1001.10Z" fill="#3f80b6"/>
<path d="M741.82 1012.73L746.01 1001.10A12.36 12.36 0 0 0 741.82 1000.37Z" fill="#fdae6b"/>
<circle cx="813.00" cy="1012.73" r="15.90" fill="#bfbec1"/>
<circle cx="813.00" cy="1012.73" r="9.44" fill="#cc3221"/>
<circle cx="813.00" cy="1012.73" r="9.94" fill="#cc3221"/>


<circle cx="884.20" cy="1012.73" r="16.50" fill="#bfbec1"/>
<circle cx="884.20" cy="1012.73" r="10.07" fill="#cc3221"/>
<path d="M884.20 1012.73L884.20 1002.16A10.57 10.57 0 1 0 890.41 1004.18Z" fill="#cc3221"/>
<path d="M884.20 1012.73L890.41 1004.18A10.57 10.57 0 0 0 885.52 1002.24Z" fill="#3f80b6"/>
<path d="M884.20 1012.73L885.52 1002.24A10.57 10.57 0 0 0 884.20 1002.16Z" fill="#fdae6b"/>
<circle cx="955.42" cy="1012.73" r="18.40" fill="#bfbec1"/>
<circle cx="955.42" cy="1012.73" r="12.08" fill="#cc3221"/>
<path d="M955.42 1012.73L955.42 1000.15A12.58 12.58 0 1 0 967.95 1011.63Z" fill="#cc3221"/>
<path d="M955.42 1012.73L967.95 1011.63A12.58 12.58 0 0 0 960.13 1001.07Z" fill="#3f80b6"/>
<path d="M955.42 1012.73L960.13 1001.07A12.58 12.58 0 0 0 955.42 1000.15Z" fill="#fdae6b"/>
<circle cx="1026.67" cy="1012.73" r="21.90" fill="#bfbec1"/>
<circle cx="1026.67" cy="1012.73" r="15.76" fill="#3f80b6"/>
<path d="M1026.67 1012.73L1026.67 996.47A16.26 16.26 0 0 0 1017.62 1026.24Z" fill="#cc3221"/>
<path d="M1026.67 1012.73L1017.62 1026.24A16.26 16.26 0 1 0 1028.91 996.62Z" fill="#3f80b6"/>
<path d="M1026.67 1012.73L1028.91 996.62A16.26 16.26 0 0 0 1026.67 996.47Z" fill="#fdae6b"/>
<circle cx="1097.94" cy="1012.73" r="25.40" fill="#bfbec1"/>
<circle cx="1097.94" cy="1012.73" r="19.45" fill="#3f80b6"/>
<path d="M1097.94 1012.73L1097.94 992.78A19.95 19.95 0 0 0 1079.01 1019.01Z" fill="#cc3221"/>
<path d="M1097.94 1012.73L1079.01 1019.01A19.95 19.95 0 0 0 1117.51 1016.59Z" fill="#3f80b6"/>
<path d="M1097.94 1012.73L1117.51 1016.59A19.95 19.95 0 0 0 1097.94 992.78Z" fill="#fdae6b"/>
<circle cx="1169.24" cy="1012.73" r="18.20" fill="#bfbec1"/>
<circle cx="1169.24" cy="1012.73" r="11.86" fill="#cc3221"/>
<circle cx="1169.24" cy="1012.73" r="12.36" fill="#cc3221"/>


<circle cx="1240.55" cy="1012.73" r="19.00" fill="#bfbec1"/>
<circle cx="1240.55" cy="1012.73" r="12.71" fill="#cc3221"/>
<circle cx="1240.55" cy="1012.73" r="13.21" fill="#cc3221"/>


<circle cx="1311.89" cy="1012.73" r="19.40" fill="#bfbec1"/>
<circle cx="1311.89" cy="1012.73" r="13.13" fill="#cc3221"/>
<path d="M1311.89 1012.73L1311.89 999.10A13.63 13.63 0 1 0 1316.59 1025.52Z" fill="#cc3221"/>
<path d="M1311.89 1012.73L1316.59 1025.52A13.63 13.63 0 0 0 1314.28 999.31Z" fill="#3f80b6"/>
<path d="M1311.89 1012.73L1314.28 999.31A13.63 13.63 0 0 0 1311.89 999.10Z" fill="#fdae6b"/>
<circle cx="1383.26" cy="1012.73" r="18.00" fill="#bfbec1"/>
<circle cx="1383.26" cy="1012.73" r="11.65" fill="#cc3221"/>
<path d="M1383.26 1012.73L1383.26 1000.58A12.15 12.15 0 1 0 1388.43 1001.73Z" fill="#cc3221"/>
<path d="M1383.26 1012.73L1388.43 1001.73A12.15 12.15 0 0 0 1384.33 1000.62Z" fill="#3f80b6"/>
<path d="M1383.26 1012.73L1384.33 1000.62A12.15 12.15 0 0 0 1383.26 1000.58Z" fill="#fdae6b"/>
<circle cx="1454.64" cy="1012.73" r="15.20" fill="#bfbec1"/>
<circle cx="1454.64" cy="1012.73" r="8.71" fill="#cc3221"/>
<circle cx="1454.64" cy="1012.73" r="9.21" fill="#cc3221"/>


<circle cx="1526.05" cy="1012.73" r="17.70" fill="#bfbec1"/>
<circle cx="1526.05" cy="1012.73" r="11.34" fill="#cc3221"/>
<path d="M1526.05 1012.73L1526.05 1000.89A11.84 11.84 0 1 0 1535.13 1005.13Z" fill="#cc3221"/>
<path d="M1526.05 1012.73L1535.13 1005.13A11.84 11.84 0 0 0 1527.68 1001.00Z" fill="#3f80b6"/>
<path d="M1526.05 1012.73L1527.68 1001.00A11.84 11.84 0 0 0 1526.05 1000.89Z" fill="#fdae6b"/>
<circle cx="1597.49" cy="1012.73" r="20.00" fill="#bfbec1"/>
<circle cx="1597.49" cy="1012.73" r="13.76" fill="#cc3221"/>
<path d="M1597.49 1012.73L1597.49 998.47A14.26 14.26 0 1 0 1604.59 1000.37Z" fill="#cc3221"/>
<path d="M1597.49 1012.73L1604.59 1000.37A14.26 14.26 0 0 0 1598.65 998.52Z" fill="#3f80b6"/>
<path d="M1597.49 1012.73L1598.65 998.52A14.26 14.26 0 0 0 1597.49 998.47Z" fill="#fdae6b"/>
<circle cx="1668.94" cy="1012.73" r="17.20" fill="#bfbec1"/>
<circle cx="1668.94" cy="1012.73" r="10.81" fill="#cc3221"/>
<circle cx="1668.94" cy="1012.73" r="11.31" fill="#cc3221"/>


<circle cx="1740.42" cy="1012.73" r="18.20" fill="#bfbec1"/>
<circle cx="1740.42" cy="1012.73" r="11.86" fill="#cc3221"/>
<path d="M1740.42 1012.73L1740.42 1000.37A12.36 12.36 0 1 0 1751.57 1018.06Z" fill="#cc3221"/>
<path d="M1740.42 1012.73L1751.57 1018.06A12.36 12.36 0 0 0 1742.12 1000.48Z" fill="#3f80b6"/>
<path d="M1740.42 1012.73L1742.12 1000.48A12.36 12.36 0 0 0 1740.42 1000.37Z" fill="#fdae6b"/>
<circle cx="1811.92" cy="1012.73" r="18.40" fill="#bfbec1"/>
<circle cx="1811.92" cy="1012.73" r="12.08" fill="#cc3221"/>
<path d="M1811.92 1012.73L1811.92 1000.15A12.58 12.58 0 1 0 1824.50 1012.73Z" fill="#cc3221"/>
<path d="M1811.92 1012.73L1824.50 1012.73A12.58 12.58 0 0 0 1813.65 1000.27Z" fill="#3f80b6"/>
<path d="M1811.92 1012.73L1813.65 1000.27A12.58 12.58 0 0 0 1811.92 1000.15Z" fill="#fdae6b"/>
</g>
<g font-size="37.5">
<rect x="28.5" y="1110.5" width="26.4" height="31.8" fill="#bb2c22"/>
<text transform="translate(59.0 1139.6) scale(1.01 1)">RNA alterations</text>
<rect x="354.9" y="1110.5" width="26.4" height="31.8" fill="#3f7aa6"/>
<text transform="translate(385.8 1139.6) scale(1.01 1)">DNA alterations</text>
<rect x="679.9" y="1110.5" width="26.4" height="31.8" fill="#f2a46a"/>
<text transform="translate(711.2 1139.6) scale(1.01 1)">Both</text>
</g>
<g font-size="34.7">
<circle cx="41.6" cy="1195.0" r="30.9" fill="#bfbec1"/>
<text transform="translate(78.7 1209.8) scale(0.945 1)">100%</text>
<circle cx="199.4" cy="1197.8" r="26.6" fill="#bfbec1"/>
<text transform="translate(233.3 1209.8) scale(0.945 1)">75%</text>
<circle cx="334.9" cy="1197.7" r="18.1" fill="#bfbec1"/>
<text transform="translate(367.0 1209.8) scale(0.945 1)">50%</text>
<circle cx="466.8" cy="1195.8" r="14.5" fill="#bfbec1"/>
<text transform="translate(495.0 1209.8) scale(0.945 1)">25%</text>
</g>
</svg></body></html>
